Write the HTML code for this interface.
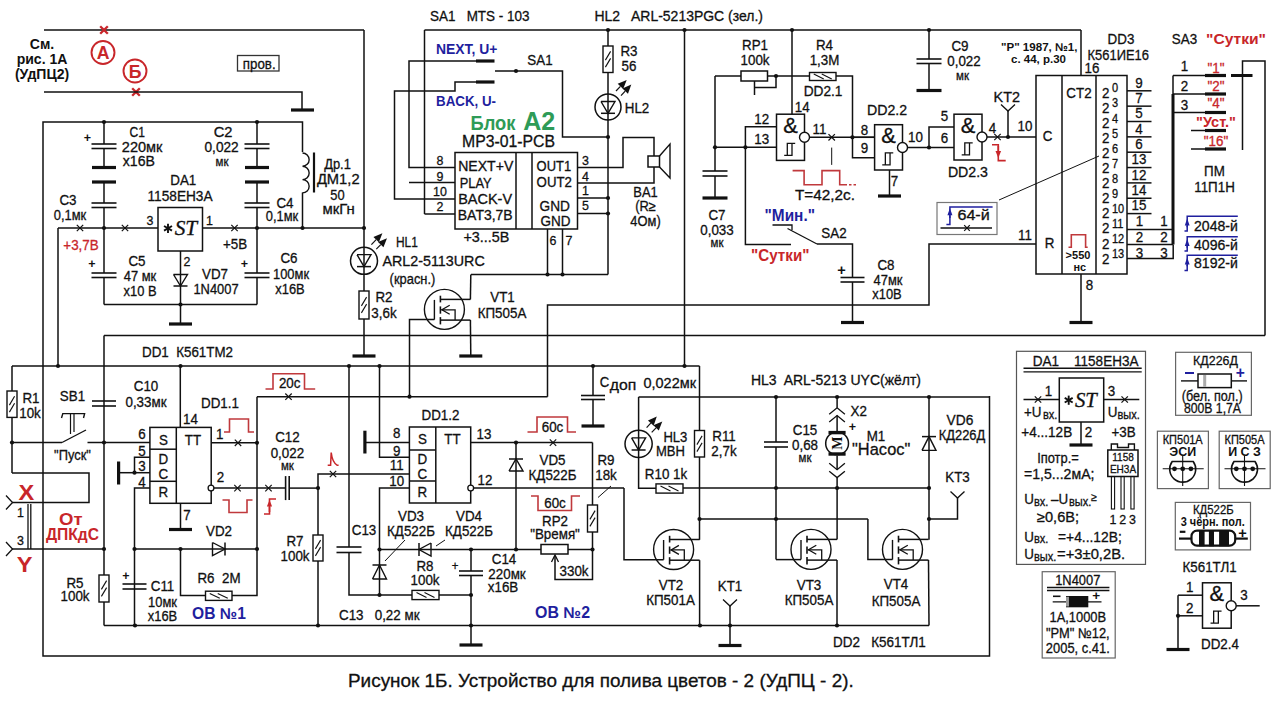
<!DOCTYPE html>
<html><head><meta charset="utf-8"><title>УдПЦ-2</title>
<style>html,body{margin:0;padding:0;background:#fff;overflow:hidden;}svg{display:block;}
text{font-family:"Liberation Sans",sans-serif;}</style></head>
<body><svg width="1280" height="702" viewBox="0 0 1280 702"><path d="M44 30 L364 30" stroke="#111" stroke-width="1.5" fill="none" stroke-linecap="butt" stroke-linejoin="miter"/><path d="M364 30 L364 291" stroke="#111" stroke-width="1.5" fill="none" stroke-linecap="butt" stroke-linejoin="miter"/><path d="M100.2 26.2 L107.8 33.8" stroke="#c8262a" stroke-width="2.3" fill="none" stroke-linecap="butt" stroke-linejoin="miter"/><path d="M100.2 33.8 L107.8 26.2" stroke="#c8262a" stroke-width="2.3" fill="none" stroke-linecap="butt" stroke-linejoin="miter"/><path d="M132.2 88.2 L139.8 95.8" stroke="#c8262a" stroke-width="2.3" fill="none" stroke-linecap="butt" stroke-linejoin="miter"/><path d="M132.2 95.8 L139.8 88.2" stroke="#c8262a" stroke-width="2.3" fill="none" stroke-linecap="butt" stroke-linejoin="miter"/><circle cx="103" cy="52.5" r="11.5" fill="none" stroke="#c8262a" stroke-width="1.9"/><text transform="translate(103 59.1) scale(1 1)" text-anchor="middle" fill="#c8262a" stroke="#c8262a" stroke-width="0" style="font-family:&quot;Liberation Sans&quot;,sans-serif;font-size:17.68px;white-space:pre;font-weight:bold;">А</text><circle cx="135" cy="71" r="11.5" fill="none" stroke="#c8262a" stroke-width="1.9"/><text transform="translate(135 77.6) scale(1 1)" text-anchor="middle" fill="#c8262a" stroke="#c8262a" stroke-width="0" style="font-family:&quot;Liberation Sans&quot;,sans-serif;font-size:17.68px;white-space:pre;font-weight:bold;">Б</text><path d="M44 92 L302 92 L302 110" stroke="#111" stroke-width="1.5" fill="none" stroke-linecap="butt" stroke-linejoin="miter"/><path d="M291 110 L314 110" stroke="#111" stroke-width="3.2" fill="none" stroke-linecap="butt" stroke-linejoin="miter"/><text transform="translate(42 49.34) scale(1 1)" text-anchor="middle" fill="#111" stroke="#111" stroke-width="0" style="font-family:&quot;Liberation Sans&quot;,sans-serif;font-size:14.04px;white-space:pre;font-weight:bold;">См.</text><text transform="translate(42 63.84) scale(1 1)" text-anchor="middle" fill="#111" stroke="#111" stroke-width="0" style="font-family:&quot;Liberation Sans&quot;,sans-serif;font-size:14.04px;white-space:pre;font-weight:bold;">рис. 1А</text><text transform="translate(42 78.84) scale(1 1)" text-anchor="middle" fill="#111" stroke="#111" stroke-width="0" style="font-family:&quot;Liberation Sans&quot;,sans-serif;font-size:14.04px;white-space:pre;font-weight:bold;">(УдПЦ2)</text><rect x="237.5" y="55.5" width="41.5" height="15.5" fill="none" stroke="#333" stroke-width="1.3"/><text x="242.8" y="68.52" text-anchor="start" fill="#111" stroke="#111" stroke-width="0.3" style="font-family:&quot;Liberation Sans&quot;,sans-serif;font-size:14.56px;white-space:pre;" textLength="32.8" lengthAdjust="spacingAndGlyphs">пров.</text><path d="M302.5 152 L302.5 122 L43 122 L43 656 L989.5 656 L989.5 396" stroke="#111" stroke-width="1.5" fill="none" stroke-linecap="butt" stroke-linejoin="miter"/><path d="M302.5 153 a6.6 6.6 0 0 1 0 13.3 a6.6 6.6 0 0 1 0 13.3 a6.6 6.6 0 0 1 0 13.3" stroke="#111" stroke-width="1.4" fill="none"/><path d="M314 152.5 L314 192.5" stroke="#111" stroke-width="2.2" fill="none" stroke-linecap="butt" stroke-linejoin="miter"/><path d="M302.5 192.5 L302.5 229" stroke="#111" stroke-width="1.5" fill="none" stroke-linecap="butt" stroke-linejoin="miter"/><text transform="translate(337.5 168.84) scale(0.92 1)" text-anchor="middle" fill="#111" stroke="#111" stroke-width="0.3" style="font-family:&quot;Liberation Sans&quot;,sans-serif;font-size:14.04px;white-space:pre;">Др.1</text><text x="316.9" y="184.02" text-anchor="start" fill="#111" stroke="#111" stroke-width="0.3" style="font-family:&quot;Liberation Sans&quot;,sans-serif;font-size:14.56px;white-space:pre;" textLength="42.7" lengthAdjust="spacingAndGlyphs">ДМ1,2</text><text transform="translate(337.5 199.84) scale(0.92 1)" text-anchor="middle" fill="#111" stroke="#111" stroke-width="0.3" style="font-family:&quot;Liberation Sans&quot;,sans-serif;font-size:14.04px;white-space:pre;">50</text><text x="322.6" y="214.34" text-anchor="start" fill="#111" stroke="#111" stroke-width="0.3" style="font-family:&quot;Liberation Sans&quot;,sans-serif;font-size:14.04px;white-space:pre;" textLength="32.2" lengthAdjust="spacingAndGlyphs">мкГн</text><circle cx="104" cy="122" r="2.1" fill="#111"/><path d="M104 122 L104 144" stroke="#111" stroke-width="1.5" fill="none" stroke-linecap="butt" stroke-linejoin="miter"/><path d="M91.5 144 L116.5 144" stroke="#111" stroke-width="1.6" fill="none" stroke-linecap="butt" stroke-linejoin="miter"/><path d="M91.5 148.5 L116.5 148.5" stroke="#111" stroke-width="1.6" fill="none" stroke-linecap="butt" stroke-linejoin="miter"/><path d="M104 148.5 L104 167.5" stroke="#111" stroke-width="1.5" fill="none" stroke-linecap="butt" stroke-linejoin="miter"/><path d="M92 167.5 L116 167.5" stroke="#111" stroke-width="3.2" fill="none" stroke-linecap="butt" stroke-linejoin="miter"/><path d="M92 182 L116 182" stroke="#111" stroke-width="3.2" fill="none" stroke-linecap="butt" stroke-linejoin="miter"/><path d="M104 182 L104 203" stroke="#111" stroke-width="1.5" fill="none" stroke-linecap="butt" stroke-linejoin="miter"/><path d="M91.5 203 L116.5 203" stroke="#111" stroke-width="1.6" fill="none" stroke-linecap="butt" stroke-linejoin="miter"/><path d="M91.5 207.5 L116.5 207.5" stroke="#111" stroke-width="1.6" fill="none" stroke-linecap="butt" stroke-linejoin="miter"/><path d="M104 207.5 L104 228" stroke="#111" stroke-width="1.5" fill="none" stroke-linecap="butt" stroke-linejoin="miter"/><circle cx="257" cy="122" r="2.1" fill="#111"/><path d="M257 122 L257 144" stroke="#111" stroke-width="1.5" fill="none" stroke-linecap="butt" stroke-linejoin="miter"/><path d="M244.5 144 L269.5 144" stroke="#111" stroke-width="1.6" fill="none" stroke-linecap="butt" stroke-linejoin="miter"/><path d="M244.5 148.5 L269.5 148.5" stroke="#111" stroke-width="1.6" fill="none" stroke-linecap="butt" stroke-linejoin="miter"/><path d="M257 148.5 L257 167.5" stroke="#111" stroke-width="1.5" fill="none" stroke-linecap="butt" stroke-linejoin="miter"/><path d="M245 167.5 L269 167.5" stroke="#111" stroke-width="3.2" fill="none" stroke-linecap="butt" stroke-linejoin="miter"/><path d="M245 182 L269 182" stroke="#111" stroke-width="3.2" fill="none" stroke-linecap="butt" stroke-linejoin="miter"/><path d="M257 182 L257 203" stroke="#111" stroke-width="1.5" fill="none" stroke-linecap="butt" stroke-linejoin="miter"/><path d="M244.5 203 L269.5 203" stroke="#111" stroke-width="1.6" fill="none" stroke-linecap="butt" stroke-linejoin="miter"/><path d="M244.5 207.5 L269.5 207.5" stroke="#111" stroke-width="1.6" fill="none" stroke-linecap="butt" stroke-linejoin="miter"/><path d="M257 207.5 L257 228" stroke="#111" stroke-width="1.5" fill="none" stroke-linecap="butt" stroke-linejoin="miter"/><text transform="translate(87.5 142.31) scale(1 1)" text-anchor="middle" fill="#111" stroke="#111" stroke-width="0" style="font-family:&quot;Liberation Sans&quot;,sans-serif;font-size:12.48px;white-space:pre;font-weight:bold;">+</text><text x="129.6" y="137.02" text-anchor="start" fill="#111" stroke="#111" stroke-width="0.3" style="font-family:&quot;Liberation Sans&quot;,sans-serif;font-size:14.56px;white-space:pre;" textLength="15.4" lengthAdjust="spacingAndGlyphs">C1</text><text x="121.8" y="152.02" text-anchor="start" fill="#111" stroke="#111" stroke-width="0.3" style="font-family:&quot;Liberation Sans&quot;,sans-serif;font-size:14.56px;white-space:pre;" textLength="40.6" lengthAdjust="spacingAndGlyphs">220мк</text><text x="122.8" y="165.84" text-anchor="start" fill="#111" stroke="#111" stroke-width="0.3" style="font-family:&quot;Liberation Sans&quot;,sans-serif;font-size:14.04px;white-space:pre;" textLength="32.1" lengthAdjust="spacingAndGlyphs">x16B</text><text x="213.7" y="137.02" text-anchor="start" fill="#111" stroke="#111" stroke-width="0.3" style="font-family:&quot;Liberation Sans&quot;,sans-serif;font-size:14.56px;white-space:pre;" textLength="18.8" lengthAdjust="spacingAndGlyphs">C2</text><text x="204.5" y="152.02" text-anchor="start" fill="#111" stroke="#111" stroke-width="0.3" style="font-family:&quot;Liberation Sans&quot;,sans-serif;font-size:14.56px;white-space:pre;" textLength="34.2" lengthAdjust="spacingAndGlyphs">0,022</text><text transform="translate(222 166.31) scale(0.92 1)" text-anchor="middle" fill="#111" stroke="#111" stroke-width="0.3" style="font-family:&quot;Liberation Sans&quot;,sans-serif;font-size:12.48px;white-space:pre;">мк</text><text transform="translate(68 205.02) scale(0.92 1)" text-anchor="middle" fill="#111" stroke="#111" stroke-width="0.3" style="font-family:&quot;Liberation Sans&quot;,sans-serif;font-size:14.56px;white-space:pre;">C3</text><text transform="translate(70 219.84) scale(0.92 1)" text-anchor="middle" fill="#111" stroke="#111" stroke-width="0.3" style="font-family:&quot;Liberation Sans&quot;,sans-serif;font-size:14.04px;white-space:pre;">0,1мк</text><text transform="translate(285 207.52) scale(0.92 1)" text-anchor="middle" fill="#111" stroke="#111" stroke-width="0.3" style="font-family:&quot;Liberation Sans&quot;,sans-serif;font-size:14.56px;white-space:pre;">C4</text><text transform="translate(282 220.84) scale(0.92 1)" text-anchor="middle" fill="#111" stroke="#111" stroke-width="0.3" style="font-family:&quot;Liberation Sans&quot;,sans-serif;font-size:14.04px;white-space:pre;">0,1мк</text><path d="M58 228 L158 228" stroke="#111" stroke-width="1.5" fill="none" stroke-linecap="butt" stroke-linejoin="miter"/><path d="M202.5 228 L364 228" stroke="#111" stroke-width="1.5" fill="none" stroke-linecap="butt" stroke-linejoin="miter"/><circle cx="104" cy="228" r="2.1" fill="#111"/><circle cx="257" cy="228" r="2.1" fill="#111"/><circle cx="302.5" cy="228" r="2.1" fill="#111"/><circle cx="364" cy="228" r="2.1" fill="#111"/><path d="M76.8 224.8 L83.2 231.2" stroke="#111" stroke-width="1.2" fill="none" stroke-linecap="butt" stroke-linejoin="miter"/><path d="M76.8 231.2 L83.2 224.8" stroke="#111" stroke-width="1.2" fill="none" stroke-linecap="butt" stroke-linejoin="miter"/><path d="M121.8 224.8 L128.2 231.2" stroke="#111" stroke-width="1.2" fill="none" stroke-linecap="butt" stroke-linejoin="miter"/><path d="M121.8 231.2 L128.2 224.8" stroke="#111" stroke-width="1.2" fill="none" stroke-linecap="butt" stroke-linejoin="miter"/><path d="M231.3 224.8 L237.7 231.2" stroke="#111" stroke-width="1.2" fill="none" stroke-linecap="butt" stroke-linejoin="miter"/><path d="M231.3 231.2 L237.7 224.8" stroke="#111" stroke-width="1.2" fill="none" stroke-linecap="butt" stroke-linejoin="miter"/><rect x="158" y="207.5" width="44.5" height="43.5" fill="none" stroke="#111" stroke-width="1.5"/><path d="M168 223.7 L168 232.9" stroke="#111" stroke-width="1.9" fill="none" stroke-linecap="butt" stroke-linejoin="miter"/><path d="M171.98 226 L164.02 230.6" stroke="#111" stroke-width="1.9" fill="none" stroke-linecap="butt" stroke-linejoin="miter"/><path d="M171.98 230.6 L164.02 226" stroke="#111" stroke-width="1.9" fill="none" stroke-linecap="butt" stroke-linejoin="miter"/><text x="174.7" y="235.3" text-anchor="start" fill="#111" stroke="#111" stroke-width="0.3" style="font-family:&quot;Liberation Serif&quot;,sans-serif;font-size:20.28px;white-space:pre;font-style:italic;" textLength="22.5" lengthAdjust="spacingAndGlyphs">ST</text><text transform="translate(150 224.66) scale(0.92 1)" text-anchor="middle" fill="#111" stroke="#111" stroke-width="0.3" style="font-family:&quot;Liberation Sans&quot;,sans-serif;font-size:13.52px;white-space:pre;">3</text><text transform="translate(209.5 224.66) scale(0.92 1)" text-anchor="middle" fill="#111" stroke="#111" stroke-width="0.3" style="font-family:&quot;Liberation Sans&quot;,sans-serif;font-size:13.52px;white-space:pre;">1</text><text transform="translate(183.3 185.02) scale(0.92 1)" text-anchor="middle" fill="#111" stroke="#111" stroke-width="0.3" style="font-family:&quot;Liberation Sans&quot;,sans-serif;font-size:14.56px;white-space:pre;">DA1</text><text x="147.5" y="201.02" text-anchor="start" fill="#111" stroke="#111" stroke-width="0.3" style="font-family:&quot;Liberation Sans&quot;,sans-serif;font-size:14.56px;white-space:pre;" textLength="65.1" lengthAdjust="spacingAndGlyphs">1158ЕН3А</text><text transform="translate(81 250.02) scale(0.92 1)" text-anchor="middle" fill="#c8262a" stroke="#c8262a" stroke-width="0.3" style="font-family:&quot;Liberation Sans&quot;,sans-serif;font-size:14.56px;white-space:pre;">+3,7B</text><text transform="translate(235 249.02) scale(0.92 1)" text-anchor="middle" fill="#111" stroke="#111" stroke-width="0.3" style="font-family:&quot;Liberation Sans&quot;,sans-serif;font-size:14.56px;white-space:pre;">+5B</text><path d="M58 228 L58 366" stroke="#111" stroke-width="1.5" fill="none" stroke-linecap="butt" stroke-linejoin="miter"/><path d="M180.5 251 L180.5 324" stroke="#111" stroke-width="1.5" fill="none" stroke-linecap="butt" stroke-linejoin="miter"/><path d="M173.5 274.5 L187.5 274.5 L180.5 286 L173.5 274.5" stroke="#111" stroke-width="1.4" fill="none" stroke-linecap="butt" stroke-linejoin="miter"/><path d="M173.5 286 L187.5 286" stroke="#111" stroke-width="1.5" fill="none" stroke-linecap="butt" stroke-linejoin="miter"/><circle cx="180.5" cy="304.5" r="2.1" fill="#111"/><path d="M169 324 L192 324" stroke="#111" stroke-width="3.2" fill="none" stroke-linecap="butt" stroke-linejoin="miter"/><text transform="translate(187 266.16) scale(0.92 1)" text-anchor="middle" fill="#111" stroke="#111" stroke-width="0.3" style="font-family:&quot;Liberation Sans&quot;,sans-serif;font-size:13.52px;white-space:pre;">2</text><path d="M104 228 L104 273" stroke="#111" stroke-width="1.5" fill="none" stroke-linecap="butt" stroke-linejoin="miter"/><path d="M91.5 273 L116.5 273" stroke="#111" stroke-width="1.6" fill="none" stroke-linecap="butt" stroke-linejoin="miter"/><path d="M91.5 277.5 L116.5 277.5" stroke="#111" stroke-width="1.6" fill="none" stroke-linecap="butt" stroke-linejoin="miter"/><path d="M104 277.5 L104 304.5" stroke="#111" stroke-width="1.5" fill="none" stroke-linecap="butt" stroke-linejoin="miter"/><path d="M257 228 L257 273" stroke="#111" stroke-width="1.5" fill="none" stroke-linecap="butt" stroke-linejoin="miter"/><path d="M244.5 273 L269.5 273" stroke="#111" stroke-width="1.6" fill="none" stroke-linecap="butt" stroke-linejoin="miter"/><path d="M244.5 277.5 L269.5 277.5" stroke="#111" stroke-width="1.6" fill="none" stroke-linecap="butt" stroke-linejoin="miter"/><path d="M257 277.5 L257 304.5" stroke="#111" stroke-width="1.5" fill="none" stroke-linecap="butt" stroke-linejoin="miter"/><path d="M104 304.5 L257 304.5" stroke="#111" stroke-width="1.5" fill="none" stroke-linecap="butt" stroke-linejoin="miter"/><text transform="translate(92 268.31) scale(1 1)" text-anchor="middle" fill="#111" stroke="#111" stroke-width="0" style="font-family:&quot;Liberation Sans&quot;,sans-serif;font-size:12.48px;white-space:pre;font-weight:bold;">+</text><text transform="translate(244.5 268.31) scale(1 1)" text-anchor="middle" fill="#111" stroke="#111" stroke-width="0" style="font-family:&quot;Liberation Sans&quot;,sans-serif;font-size:12.48px;white-space:pre;font-weight:bold;">+</text><text transform="translate(137 266.02) scale(0.92 1)" text-anchor="middle" fill="#111" stroke="#111" stroke-width="0.3" style="font-family:&quot;Liberation Sans&quot;,sans-serif;font-size:14.56px;white-space:pre;">C5</text><text transform="translate(140 280.84) scale(0.92 1)" text-anchor="middle" fill="#111" stroke="#111" stroke-width="0.3" style="font-family:&quot;Liberation Sans&quot;,sans-serif;font-size:14.04px;white-space:pre;">47 мк</text><text transform="translate(140 295.84) scale(0.92 1)" text-anchor="middle" fill="#111" stroke="#111" stroke-width="0.3" style="font-family:&quot;Liberation Sans&quot;,sans-serif;font-size:14.04px;white-space:pre;">x10 B</text><text transform="translate(215 279.02) scale(0.92 1)" text-anchor="middle" fill="#111" stroke="#111" stroke-width="0.3" style="font-family:&quot;Liberation Sans&quot;,sans-serif;font-size:14.56px;white-space:pre;">VD7</text><text transform="translate(216 293.84) scale(0.92 1)" text-anchor="middle" fill="#111" stroke="#111" stroke-width="0.3" style="font-family:&quot;Liberation Sans&quot;,sans-serif;font-size:14.04px;white-space:pre;">1N4007</text><text transform="translate(289 262.52) scale(0.92 1)" text-anchor="middle" fill="#111" stroke="#111" stroke-width="0.3" style="font-family:&quot;Liberation Sans&quot;,sans-serif;font-size:14.56px;white-space:pre;">C6</text><text transform="translate(291 278.84) scale(0.92 1)" text-anchor="middle" fill="#111" stroke="#111" stroke-width="0.3" style="font-family:&quot;Liberation Sans&quot;,sans-serif;font-size:14.04px;white-space:pre;">100мк</text><text transform="translate(290 293.84) scale(0.92 1)" text-anchor="middle" fill="#111" stroke="#111" stroke-width="0.3" style="font-family:&quot;Liberation Sans&quot;,sans-serif;font-size:14.04px;white-space:pre;">x16B</text><circle cx="364" cy="260.8" r="13.5" fill="none" stroke="#111" stroke-width="1.5"/><path d="M357 254.6 L371 254.6 L364 266.6 L357 254.6" stroke="#111" stroke-width="1.4" fill="none" stroke-linecap="butt" stroke-linejoin="miter"/><path d="M357 266.6 L371 266.6" stroke="#111" stroke-width="1.5" fill="none" stroke-linecap="butt" stroke-linejoin="miter"/><path d="M371.4 244.6 L376.15 239.68" stroke="#111" stroke-width="1.2" fill="none" stroke-linecap="butt" stroke-linejoin="miter"/><path d="M382.4 233.2 L378.89 242.32 L373.42 237.04 Z" fill="#111"/><path d="M376.3 249.2 L380.72 244.65" stroke="#111" stroke-width="1.2" fill="none" stroke-linecap="butt" stroke-linejoin="miter"/><path d="M387 238.2 L383.45 247.3 L378 242 Z" fill="#111"/><text x="396" y="246.82" text-anchor="start" fill="#111" stroke="#111" stroke-width="0.3" style="font-family:&quot;Liberation Sans&quot;,sans-serif;font-size:14.56px;white-space:pre;" textLength="21.9" lengthAdjust="spacingAndGlyphs">HL1</text><text x="382.4" y="265.82" text-anchor="start" fill="#111" stroke="#111" stroke-width="0.3" style="font-family:&quot;Liberation Sans&quot;,sans-serif;font-size:14.56px;white-space:pre;" textLength="102.4" lengthAdjust="spacingAndGlyphs">ARL2-5113URC</text><text transform="translate(412.5 283.84) scale(0.92 1)" text-anchor="middle" fill="#111" stroke="#111" stroke-width="0.3" style="font-family:&quot;Liberation Sans&quot;,sans-serif;font-size:14.04px;white-space:pre;">(красн.)</text><rect x="359" y="291" width="10" height="28" fill="#fff" stroke="#111" stroke-width="1.4"/><path d="M361.4 305.9 L366.6 297.1" stroke="#111" stroke-width="1.1" fill="none" stroke-linecap="butt" stroke-linejoin="miter"/><path d="M361.4 312.9 L366.6 304.1" stroke="#111" stroke-width="1.1" fill="none" stroke-linecap="butt" stroke-linejoin="miter"/><path d="M364 319 L364 356" stroke="#111" stroke-width="1.5" fill="none" stroke-linecap="butt" stroke-linejoin="miter"/><path d="M352.5 356 L375.5 356" stroke="#111" stroke-width="3.2" fill="none" stroke-linecap="butt" stroke-linejoin="miter"/><text transform="translate(384 302.02) scale(0.92 1)" text-anchor="middle" fill="#111" stroke="#111" stroke-width="0.3" style="font-family:&quot;Liberation Sans&quot;,sans-serif;font-size:14.56px;white-space:pre;">R2</text><text transform="translate(384 317.52) scale(0.92 1)" text-anchor="middle" fill="#111" stroke="#111" stroke-width="0.3" style="font-family:&quot;Liberation Sans&quot;,sans-serif;font-size:14.56px;white-space:pre;">3,6k</text><text x="430" y="21.02" text-anchor="start" fill="#111" stroke="#111" stroke-width="0.3" style="font-family:&quot;Liberation Sans&quot;,sans-serif;font-size:14.56px;white-space:pre;" textLength="99.5" lengthAdjust="spacingAndGlyphs">SA1   MTS - 103</text><path d="M424.5 30 L1081 30" stroke="#111" stroke-width="1.5" fill="none" stroke-linecap="butt" stroke-linejoin="miter"/><circle cx="608" cy="30" r="2.1" fill="#111"/><circle cx="684.5" cy="30" r="2.1" fill="#111"/><circle cx="792" cy="30" r="2.1" fill="#111"/><circle cx="929" cy="30" r="2.1" fill="#111"/><path d="M424.5 30 L424.5 214" stroke="#111" stroke-width="1.5" fill="none" stroke-linecap="butt" stroke-linejoin="miter"/><path d="M424.5 214 L455 214" stroke="#111" stroke-width="1.5" fill="none" stroke-linecap="butt" stroke-linejoin="miter"/><text x="436" y="54.02" text-anchor="start" fill="#1f1f9e" stroke="#1f1f9e" stroke-width="0" style="font-family:&quot;Liberation Sans&quot;,sans-serif;font-size:14.56px;white-space:pre;font-weight:bold;" textLength="61.5" lengthAdjust="spacingAndGlyphs">NEXT, U+</text><text x="436" y="105.52" text-anchor="start" fill="#1f1f9e" stroke="#1f1f9e" stroke-width="0" style="font-family:&quot;Liberation Sans&quot;,sans-serif;font-size:14.56px;white-space:pre;font-weight:bold;" textLength="60" lengthAdjust="spacingAndGlyphs">BACK, U-</text><path d="M476 61 L494.5 61" stroke="#111" stroke-width="3.2" fill="none" stroke-linecap="butt" stroke-linejoin="miter"/><path d="M476 82 L494.5 82" stroke="#111" stroke-width="3.2" fill="none" stroke-linecap="butt" stroke-linejoin="miter"/><path d="M476 61 L409 61 L409 167.5 L455 167.5" stroke="#111" stroke-width="1.5" fill="none" stroke-linecap="butt" stroke-linejoin="miter"/><path d="M476 82 L455 82 L455 91 L394.5 91 L394.5 199 L455 199" stroke="#111" stroke-width="1.5" fill="none" stroke-linecap="butt" stroke-linejoin="miter"/><path d="M409 182.5 L455 182.5" stroke="#111" stroke-width="1.5" fill="none" stroke-linecap="butt" stroke-linejoin="miter"/><path d="M495 71 L562.5 71 L562.5 137 L608 137" stroke="#111" stroke-width="1.5" fill="none" stroke-linecap="butt" stroke-linejoin="miter"/><circle cx="516" cy="71" r="2.1" fill="#111"/><circle cx="608" cy="137" r="2.1" fill="#111"/><text transform="translate(540 65.02) scale(0.92 1)" text-anchor="middle" fill="#111" stroke="#111" stroke-width="0.3" style="font-family:&quot;Liberation Sans&quot;,sans-serif;font-size:14.56px;white-space:pre;">SA1</text><text x="470.5" y="129.7" text-anchor="start" fill="#2e9b57" stroke="#2e9b57" stroke-width="0" style="font-family:&quot;Liberation Sans&quot;,sans-serif;font-size:19.76px;white-space:pre;font-weight:bold;" textLength="45" lengthAdjust="spacingAndGlyphs">Блок</text><text x="523.3" y="129.7" text-anchor="start" fill="#2e9b57" stroke="#2e9b57" stroke-width="0" style="font-family:&quot;Liberation Sans&quot;,sans-serif;font-size:26.52px;white-space:pre;font-weight:bold;" textLength="32" lengthAdjust="spacingAndGlyphs">A2</text><text x="462" y="147" text-anchor="start" fill="#111" stroke="#111" stroke-width="0.3" style="font-family:&quot;Liberation Sans&quot;,sans-serif;font-size:16.64px;white-space:pre;" textLength="93" lengthAdjust="spacingAndGlyphs">MP3-01-PCB</text><rect x="455" y="152.5" width="122.5" height="76.5" fill="none" stroke="#111" stroke-width="1.5"/><path d="M516 152.5 L516 229" stroke="#111" stroke-width="1.5" fill="none" stroke-linecap="butt" stroke-linejoin="miter"/><path d="M532 152.5 L532 229" stroke="#111" stroke-width="1.5" fill="none" stroke-linecap="butt" stroke-linejoin="miter"/><text x="458.2" y="170.84" text-anchor="start" fill="#111" stroke="#111" stroke-width="0.3" style="font-family:&quot;Liberation Sans&quot;,sans-serif;font-size:14.04px;white-space:pre;" textLength="55.1" lengthAdjust="spacingAndGlyphs">NEXT+V</text><text x="459.8" y="187.74" text-anchor="start" fill="#111" stroke="#111" stroke-width="0.3" style="font-family:&quot;Liberation Sans&quot;,sans-serif;font-size:14.04px;white-space:pre;" textLength="31.9" lengthAdjust="spacingAndGlyphs">PLAY</text><text x="458.2" y="203.74" text-anchor="start" fill="#111" stroke="#111" stroke-width="0.3" style="font-family:&quot;Liberation Sans&quot;,sans-serif;font-size:14.04px;white-space:pre;" textLength="53.9" lengthAdjust="spacingAndGlyphs">BACK-V</text><text x="457.8" y="219.64" text-anchor="start" fill="#111" stroke="#111" stroke-width="0.3" style="font-family:&quot;Liberation Sans&quot;,sans-serif;font-size:14.04px;white-space:pre;" textLength="54.9" lengthAdjust="spacingAndGlyphs">BAT3,7B</text><text x="536.6" y="170.84" text-anchor="start" fill="#111" stroke="#111" stroke-width="0.3" style="font-family:&quot;Liberation Sans&quot;,sans-serif;font-size:14.04px;white-space:pre;" textLength="34.5" lengthAdjust="spacingAndGlyphs">OUT1</text><text x="536.6" y="186.74" text-anchor="start" fill="#111" stroke="#111" stroke-width="0.3" style="font-family:&quot;Liberation Sans&quot;,sans-serif;font-size:14.04px;white-space:pre;" textLength="35.3" lengthAdjust="spacingAndGlyphs">OUT2</text><text x="539.6" y="210.74" text-anchor="start" fill="#111" stroke="#111" stroke-width="0.3" style="font-family:&quot;Liberation Sans&quot;,sans-serif;font-size:14.04px;white-space:pre;" textLength="30.4" lengthAdjust="spacingAndGlyphs">GND</text><text x="540.6" y="225.64" text-anchor="start" fill="#111" stroke="#111" stroke-width="0.3" style="font-family:&quot;Liberation Sans&quot;,sans-serif;font-size:14.04px;white-space:pre;" textLength="30" lengthAdjust="spacingAndGlyphs">GND</text><text transform="translate(440 164.66) scale(0.92 1)" text-anchor="middle" fill="#111" stroke="#111" stroke-width="0.3" style="font-family:&quot;Liberation Sans&quot;,sans-serif;font-size:13.52px;white-space:pre;">8</text><text transform="translate(440 180.66) scale(0.92 1)" text-anchor="middle" fill="#111" stroke="#111" stroke-width="0.3" style="font-family:&quot;Liberation Sans&quot;,sans-serif;font-size:13.52px;white-space:pre;">9</text><text transform="translate(440 195.66) scale(0.92 1)" text-anchor="middle" fill="#111" stroke="#111" stroke-width="0.3" style="font-family:&quot;Liberation Sans&quot;,sans-serif;font-size:13.52px;white-space:pre;">10</text><text transform="translate(440 210.66) scale(0.92 1)" text-anchor="middle" fill="#111" stroke="#111" stroke-width="0.3" style="font-family:&quot;Liberation Sans&quot;,sans-serif;font-size:13.52px;white-space:pre;">2</text><text transform="translate(585.5 164.66) scale(0.92 1)" text-anchor="middle" fill="#111" stroke="#111" stroke-width="0.3" style="font-family:&quot;Liberation Sans&quot;,sans-serif;font-size:13.52px;white-space:pre;">3</text><text transform="translate(585.5 180.66) scale(0.92 1)" text-anchor="middle" fill="#111" stroke="#111" stroke-width="0.3" style="font-family:&quot;Liberation Sans&quot;,sans-serif;font-size:13.52px;white-space:pre;">4</text><text transform="translate(585.5 194.66) scale(0.92 1)" text-anchor="middle" fill="#111" stroke="#111" stroke-width="0.3" style="font-family:&quot;Liberation Sans&quot;,sans-serif;font-size:13.52px;white-space:pre;">1</text><text transform="translate(585.5 209.66) scale(0.92 1)" text-anchor="middle" fill="#111" stroke="#111" stroke-width="0.3" style="font-family:&quot;Liberation Sans&quot;,sans-serif;font-size:13.52px;white-space:pre;">5</text><path d="M577.5 167.5 L623 167.5 L623 137.5 L654 137.5 L654 156" stroke="#111" stroke-width="1.5" fill="none" stroke-linecap="butt" stroke-linejoin="miter"/><path d="M577.5 183 L654 183 L654 167" stroke="#111" stroke-width="1.5" fill="none" stroke-linecap="butt" stroke-linejoin="miter"/><path d="M577.5 198 L608 198" stroke="#111" stroke-width="1.5" fill="none" stroke-linecap="butt" stroke-linejoin="miter"/><path d="M577.5 213.5 L608 213.5" stroke="#111" stroke-width="1.5" fill="none" stroke-linecap="butt" stroke-linejoin="miter"/><circle cx="608" cy="198" r="2.1" fill="#111"/><circle cx="608" cy="213.5" r="2.1" fill="#111"/><path d="M608 30 L608 274.5" stroke="#111" stroke-width="1.5" fill="none" stroke-linecap="butt" stroke-linejoin="miter"/><rect x="603" y="46" width="10" height="26.5" fill="#fff" stroke="#111" stroke-width="1.4"/><path d="M605.4 60.15 L610.6 51.35" stroke="#111" stroke-width="1.1" fill="none" stroke-linecap="butt" stroke-linejoin="miter"/><path d="M605.4 67.15 L610.6 58.35" stroke="#111" stroke-width="1.1" fill="none" stroke-linecap="butt" stroke-linejoin="miter"/><circle cx="608" cy="107" r="13" fill="#fff" stroke="#111" stroke-width="1.5"/><path d="M601 101.5 L615 101.5 L608 113.3 L601 101.5" stroke="#111" stroke-width="1.4" fill="none" stroke-linecap="butt" stroke-linejoin="miter"/><path d="M601 113.3 L615 113.3" stroke="#111" stroke-width="1.5" fill="none" stroke-linecap="butt" stroke-linejoin="miter"/><path d="M608 94 L608 120" stroke="#111" stroke-width="1.5" fill="none" stroke-linecap="butt" stroke-linejoin="miter"/><path d="M616 91 L620.42 86.45" stroke="#111" stroke-width="1.2" fill="none" stroke-linecap="butt" stroke-linejoin="miter"/><path d="M626.7 80 L623.15 89.1 L617.7 83.8 Z" fill="#111"/><path d="M621 95.7 L625.18 91.2" stroke="#111" stroke-width="1.2" fill="none" stroke-linecap="butt" stroke-linejoin="miter"/><path d="M631.3 84.6 L627.96 93.78 L622.39 88.61 Z" fill="#111"/><rect x="648" y="156" width="11.5" height="11" fill="none" stroke="#111" stroke-width="1.5"/><path d="M659.5 156 L670 144 L670 178 L659.5 167" stroke="#111" stroke-width="1.4" fill="none" stroke-linecap="butt" stroke-linejoin="miter"/><text transform="translate(645.5 197.34) scale(0.92 1)" text-anchor="middle" fill="#111" stroke="#111" stroke-width="0.3" style="font-family:&quot;Liberation Sans&quot;,sans-serif;font-size:14.04px;white-space:pre;">BA1</text><text transform="translate(645.5 210.84) scale(0.92 1)" text-anchor="middle" fill="#111" stroke="#111" stroke-width="0.3" style="font-family:&quot;Liberation Sans&quot;,sans-serif;font-size:14.04px;white-space:pre;">(R≥</text><text transform="translate(645.5 225.84) scale(0.92 1)" text-anchor="middle" fill="#111" stroke="#111" stroke-width="0.3" style="font-family:&quot;Liberation Sans&quot;,sans-serif;font-size:14.04px;white-space:pre;">4Ом)</text><text x="463.4" y="241.64" text-anchor="start" fill="#111" stroke="#111" stroke-width="0.3" style="font-family:&quot;Liberation Sans&quot;,sans-serif;font-size:14.04px;white-space:pre;" textLength="45.9" lengthAdjust="spacingAndGlyphs">+3...5B</text><path d="M547.5 229 L547.5 274.5" stroke="#111" stroke-width="1.5" fill="none" stroke-linecap="butt" stroke-linejoin="miter"/><path d="M562.5 229 L562.5 274.5" stroke="#111" stroke-width="1.5" fill="none" stroke-linecap="butt" stroke-linejoin="miter"/><circle cx="547.5" cy="274.5" r="2.1" fill="#111"/><circle cx="562.5" cy="274.5" r="2.1" fill="#111"/><text transform="translate(553 244.66) scale(0.92 1)" text-anchor="middle" fill="#111" stroke="#111" stroke-width="0.3" style="font-family:&quot;Liberation Sans&quot;,sans-serif;font-size:13.52px;white-space:pre;">6</text><text transform="translate(569 244.66) scale(0.92 1)" text-anchor="middle" fill="#111" stroke="#111" stroke-width="0.3" style="font-family:&quot;Liberation Sans&quot;,sans-serif;font-size:13.52px;white-space:pre;">7</text><path d="M471 274.5 L608 274.5" stroke="#111" stroke-width="1.5" fill="none" stroke-linecap="butt" stroke-linejoin="miter"/><circle cx="444.4" cy="309.4" r="20" fill="none" stroke="#111" stroke-width="1.4"/><path d="M434.4 299.9 L434.4 319.6" stroke="#111" stroke-width="1.4" fill="none" stroke-linecap="butt" stroke-linejoin="miter"/><path d="M440.4 295.7 L440.4 302.4" stroke="#111" stroke-width="1.6" fill="none" stroke-linecap="butt" stroke-linejoin="miter"/><path d="M440.4 306.4 L440.4 313.7" stroke="#111" stroke-width="1.6" fill="none" stroke-linecap="butt" stroke-linejoin="miter"/><path d="M440.4 317.1 L440.4 324.4" stroke="#111" stroke-width="1.6" fill="none" stroke-linecap="butt" stroke-linejoin="miter"/><path d="M440.4 299.4 L470.4 299.4" stroke="#111" stroke-width="1.5" fill="none" stroke-linecap="butt" stroke-linejoin="miter"/><path d="M440.4 320.1 L470.4 320.1" stroke="#111" stroke-width="1.5" fill="none" stroke-linecap="butt" stroke-linejoin="miter"/><path d="M441.4 309.8 L455.1 309.8 L455.1 320.1" stroke="#111" stroke-width="1.3" fill="none" stroke-linecap="butt" stroke-linejoin="miter"/><path d="M449.7 305.3 L441.9 309.8 L449.7 314.3" stroke="#111" stroke-width="1.3" fill="none" stroke-linecap="butt" stroke-linejoin="miter"/><path d="M470.4 299.4 L470.8 274.5" stroke="#111" stroke-width="1.5" fill="none" stroke-linecap="butt" stroke-linejoin="miter"/><path d="M470.4 320.1 L470.8 356" stroke="#111" stroke-width="1.5" fill="none" stroke-linecap="butt" stroke-linejoin="miter"/><path d="M459.3 356 L482.3 356" stroke="#111" stroke-width="3.2" fill="none" stroke-linecap="butt" stroke-linejoin="miter"/><path d="M434.4 319.6 L409.5 319.6 L409.5 396.7" stroke="#111" stroke-width="1.5" fill="none" stroke-linecap="butt" stroke-linejoin="miter"/><circle cx="409.5" cy="396.7" r="2.1" fill="#111"/><text transform="translate(502.5 302.02) scale(0.92 1)" text-anchor="middle" fill="#111" stroke="#111" stroke-width="0.3" style="font-family:&quot;Liberation Sans&quot;,sans-serif;font-size:14.56px;white-space:pre;">VT1</text><text transform="translate(502 317.52) scale(0.92 1)" text-anchor="middle" fill="#111" stroke="#111" stroke-width="0.3" style="font-family:&quot;Liberation Sans&quot;,sans-serif;font-size:14.56px;white-space:pre;">КП505А</text><path d="M257 396.7 L547.5 396.7" stroke="#111" stroke-width="1.5" fill="none" stroke-linecap="butt" stroke-linejoin="miter"/><path d="M547.5 396.7 L547.5 305 L929 305 L929 244 L1036 244" stroke="#111" stroke-width="1.5" fill="none" stroke-linecap="butt" stroke-linejoin="miter"/><text x="594.5" y="21.02" text-anchor="start" fill="#111" stroke="#111" stroke-width="0.3" style="font-family:&quot;Liberation Sans&quot;,sans-serif;font-size:14.56px;white-space:pre;" textLength="168.5" lengthAdjust="spacingAndGlyphs">HL2   ARL-5213PGC (зел.)</text><text transform="translate(629 56.02) scale(0.92 1)" text-anchor="middle" fill="#111" stroke="#111" stroke-width="0.3" style="font-family:&quot;Liberation Sans&quot;,sans-serif;font-size:14.56px;white-space:pre;">R3</text><text transform="translate(629 70.52) scale(0.92 1)" text-anchor="middle" fill="#111" stroke="#111" stroke-width="0.3" style="font-family:&quot;Liberation Sans&quot;,sans-serif;font-size:14.56px;white-space:pre;">56</text><text transform="translate(637 113.02) scale(0.92 1)" text-anchor="middle" fill="#111" stroke="#111" stroke-width="0.3" style="font-family:&quot;Liberation Sans&quot;,sans-serif;font-size:14.56px;white-space:pre;">HL2</text><rect x="741" y="71" width="26.5" height="10" fill="#fff" stroke="#111" stroke-width="1.5"/><path d="M715 76 L741 76" stroke="#111" stroke-width="1.5" fill="none" stroke-linecap="butt" stroke-linejoin="miter"/><path d="M767.5 76 L809.5 76" stroke="#111" stroke-width="1.5" fill="none" stroke-linecap="butt" stroke-linejoin="miter"/><circle cx="776" cy="76" r="2.1" fill="#111"/><rect x="809.5" y="72.5" width="26.5" height="8" fill="#fff" stroke="#111" stroke-width="1.4"/><path d="M813.75 74.1 L823.75 78.9" stroke="#111" stroke-width="1.1" fill="none" stroke-linecap="butt" stroke-linejoin="miter"/><path d="M821.75 74.1 L831.75 78.9" stroke="#111" stroke-width="1.1" fill="none" stroke-linecap="butt" stroke-linejoin="miter"/><path d="M836 76 L852.5 76 L852.5 157.8 L874.6 157.8" stroke="#111" stroke-width="1.5" fill="none" stroke-linecap="butt" stroke-linejoin="miter"/><path d="M754.5 81 L754.5 95" stroke="#111" stroke-width="1.5" fill="none" stroke-linecap="butt" stroke-linejoin="miter"/><path d="M754.5 87.5 L776 87.5 L776 76" stroke="#111" stroke-width="1.5" fill="none" stroke-linecap="butt" stroke-linejoin="miter"/><path d="M715 76 L715 171" stroke="#111" stroke-width="1.5" fill="none" stroke-linecap="butt" stroke-linejoin="miter"/><circle cx="715" cy="147.3" r="2.1" fill="#111"/><path d="M792 30 L792 114.2" stroke="#111" stroke-width="1.5" fill="none" stroke-linecap="butt" stroke-linejoin="miter"/><rect x="776.5" y="114.2" width="28" height="46.2" fill="none" stroke="#111" stroke-width="1.5"/><text transform="translate(790.5 132.83) scale(1 1)" text-anchor="middle" fill="#111" stroke="#111" stroke-width="0.3" style="font-family:&quot;Liberation Sans&quot;,sans-serif;font-size:21.84px;white-space:pre;">&amp;</text><path d="M784.2 155.3 L792 155.3 L792 143.3" stroke="#111" stroke-width="1.3" fill="none" stroke-linecap="butt" stroke-linejoin="miter"/><path d="M787.3 155.3 L787.3 143.3 L795.2 143.3" stroke="#111" stroke-width="1.3" fill="none" stroke-linecap="butt" stroke-linejoin="miter"/><circle cx="804.5" cy="137.3" r="5" fill="#fff" stroke="#111" stroke-width="1.4"/><path d="M776.5 126.8 L745.4 126.8 L745.4 244.5 L791 244.5" stroke="#111" stroke-width="1.5" fill="none" stroke-linecap="butt" stroke-linejoin="miter"/><path d="M715 147.3 L776.5 147.3" stroke="#111" stroke-width="1.5" fill="none" stroke-linecap="butt" stroke-linejoin="miter"/><circle cx="745.4" cy="147.3" r="2.1" fill="#111"/><path d="M809.8 137.3 L874.6 137.3" stroke="#111" stroke-width="1.5" fill="none" stroke-linecap="butt" stroke-linejoin="miter"/><circle cx="852.4" cy="137.3" r="2.1" fill="#111"/><path d="M828.5 134.1 L834.9 140.5" stroke="#111" stroke-width="1.2" fill="none" stroke-linecap="butt" stroke-linejoin="miter"/><path d="M828.5 140.5 L834.9 134.1" stroke="#111" stroke-width="1.2" fill="none" stroke-linecap="butt" stroke-linejoin="miter"/><path d="M831.7 147.6 L831.7 164.9" stroke="#111" stroke-width="1" fill="none" stroke-linecap="butt" stroke-linejoin="miter"/><path d="M702.5 171 L727.5 171" stroke="#111" stroke-width="1.6" fill="none" stroke-linecap="butt" stroke-linejoin="miter"/><path d="M702.5 176 L727.5 176" stroke="#111" stroke-width="1.6" fill="none" stroke-linecap="butt" stroke-linejoin="miter"/><path d="M715 176 L715 198" stroke="#111" stroke-width="1.5" fill="none" stroke-linecap="butt" stroke-linejoin="miter"/><path d="M702.5 198 L727.5 198" stroke="#111" stroke-width="3.2" fill="none" stroke-linecap="butt" stroke-linejoin="miter"/><text transform="translate(717 220.02) scale(0.92 1)" text-anchor="middle" fill="#111" stroke="#111" stroke-width="0.3" style="font-family:&quot;Liberation Sans&quot;,sans-serif;font-size:14.56px;white-space:pre;">C7</text><text transform="translate(717 234.52) scale(0.92 1)" text-anchor="middle" fill="#111" stroke="#111" stroke-width="0.3" style="font-family:&quot;Liberation Sans&quot;,sans-serif;font-size:14.56px;white-space:pre;">0,033</text><text transform="translate(717 246.81) scale(0.92 1)" text-anchor="middle" fill="#111" stroke="#111" stroke-width="0.3" style="font-family:&quot;Liberation Sans&quot;,sans-serif;font-size:12.48px;white-space:pre;">мк</text><text transform="translate(755 50.02) scale(0.92 1)" text-anchor="middle" fill="#111" stroke="#111" stroke-width="0.3" style="font-family:&quot;Liberation Sans&quot;,sans-serif;font-size:14.56px;white-space:pre;">RP1</text><text transform="translate(755 65.02) scale(0.92 1)" text-anchor="middle" fill="#111" stroke="#111" stroke-width="0.3" style="font-family:&quot;Liberation Sans&quot;,sans-serif;font-size:14.56px;white-space:pre;">100k</text><text transform="translate(824.5 50.02) scale(0.92 1)" text-anchor="middle" fill="#111" stroke="#111" stroke-width="0.3" style="font-family:&quot;Liberation Sans&quot;,sans-serif;font-size:14.56px;white-space:pre;">R4</text><text transform="translate(824.5 65.02) scale(0.92 1)" text-anchor="middle" fill="#111" stroke="#111" stroke-width="0.3" style="font-family:&quot;Liberation Sans&quot;,sans-serif;font-size:14.56px;white-space:pre;">1,3M</text><text x="803.7" y="96.02" text-anchor="start" fill="#111" stroke="#111" stroke-width="0.3" style="font-family:&quot;Liberation Sans&quot;,sans-serif;font-size:14.56px;white-space:pre;" textLength="38.8" lengthAdjust="spacingAndGlyphs">DD2.1</text><text transform="translate(761.8 123.72) scale(0.92 1)" text-anchor="middle" fill="#111" stroke="#111" stroke-width="0.3" style="font-family:&quot;Liberation Sans&quot;,sans-serif;font-size:14.56px;white-space:pre;">12</text><text transform="translate(761.8 144.22) scale(0.92 1)" text-anchor="middle" fill="#111" stroke="#111" stroke-width="0.3" style="font-family:&quot;Liberation Sans&quot;,sans-serif;font-size:14.56px;white-space:pre;">13</text><text transform="translate(802.2 111.52) scale(0.92 1)" text-anchor="middle" fill="#111" stroke="#111" stroke-width="0.3" style="font-family:&quot;Liberation Sans&quot;,sans-serif;font-size:14.56px;white-space:pre;">14</text><text transform="translate(819.5 134.02) scale(0.92 1)" text-anchor="middle" fill="#111" stroke="#111" stroke-width="0.3" style="font-family:&quot;Liberation Sans&quot;,sans-serif;font-size:14.56px;white-space:pre;">11</text><path d="M792.6 170.6 L804.1 170.6 L804.1 184.7 L822 184.7 L822 170.6 L839.7 170.6 L839.7 184.7 L847 184.7" stroke="#c0393c" stroke-width="1.6" fill="none" stroke-linecap="butt" stroke-linejoin="miter"/><path d="M849 184.7 L856 184.7" stroke="#c0393c" stroke-width="1.5" fill="none" stroke-linecap="butt" stroke-linejoin="miter" stroke-dasharray="2.5 2"/><text x="795" y="200.34" text-anchor="start" fill="#111" stroke="#111" stroke-width="0.3" style="font-family:&quot;Liberation Sans&quot;,sans-serif;font-size:14.04px;white-space:pre;" textLength="60" lengthAdjust="spacingAndGlyphs">T=42,2c.</text><path d="M772.5 225 L792 225 L792 230" stroke="#111" stroke-width="1.3" fill="none" stroke-linecap="butt" stroke-linejoin="miter"/><path d="M787.5 228.5 L817 244" stroke="#111" stroke-width="1.3" fill="none" stroke-linecap="butt" stroke-linejoin="miter"/><path d="M817 244 L852.5 244 L852.5 277.5" stroke="#111" stroke-width="1.5" fill="none" stroke-linecap="butt" stroke-linejoin="miter"/><text x="764.5" y="220.56" text-anchor="start" fill="#1f1f9e" stroke="#1f1f9e" stroke-width="0" style="font-family:&quot;Liberation Sans&quot;,sans-serif;font-size:16.12px;white-space:pre;font-weight:bold;" textLength="50.5" lengthAdjust="spacingAndGlyphs">"Мин."</text><text x="751" y="260.56" text-anchor="start" fill="#c8262a" stroke="#c8262a" stroke-width="0" style="font-family:&quot;Liberation Sans&quot;,sans-serif;font-size:16.12px;white-space:pre;font-weight:bold;" textLength="58.5" lengthAdjust="spacingAndGlyphs">"Сутки"</text><text transform="translate(834 237.52) scale(0.92 1)" text-anchor="middle" fill="#111" stroke="#111" stroke-width="0.3" style="font-family:&quot;Liberation Sans&quot;,sans-serif;font-size:14.56px;white-space:pre;">SA2</text><path d="M840.5 277.5 L864.5 277.5" stroke="#111" stroke-width="1.6" fill="none" stroke-linecap="butt" stroke-linejoin="miter"/><path d="M840.5 282 L864.5 282" stroke="#111" stroke-width="1.6" fill="none" stroke-linecap="butt" stroke-linejoin="miter"/><path d="M852.5 282 L852.5 322.5" stroke="#111" stroke-width="1.5" fill="none" stroke-linecap="butt" stroke-linejoin="miter"/><path d="M841 322.5 L864 322.5" stroke="#111" stroke-width="3.2" fill="none" stroke-linecap="butt" stroke-linejoin="miter"/><text transform="translate(841.5 275.02) scale(1 1)" text-anchor="middle" fill="#111" stroke="#111" stroke-width="0" style="font-family:&quot;Liberation Sans&quot;,sans-serif;font-size:14.56px;white-space:pre;font-weight:bold;">+</text><text transform="translate(886 270.02) scale(0.92 1)" text-anchor="middle" fill="#111" stroke="#111" stroke-width="0.3" style="font-family:&quot;Liberation Sans&quot;,sans-serif;font-size:14.56px;white-space:pre;">C8</text><text transform="translate(888 284.84) scale(0.92 1)" text-anchor="middle" fill="#111" stroke="#111" stroke-width="0.3" style="font-family:&quot;Liberation Sans&quot;,sans-serif;font-size:14.04px;white-space:pre;">47мк</text><text transform="translate(887 299.34) scale(0.92 1)" text-anchor="middle" fill="#111" stroke="#111" stroke-width="0.3" style="font-family:&quot;Liberation Sans&quot;,sans-serif;font-size:14.04px;white-space:pre;">x10B</text><path d="M852.4 137.3 L874.6 137.3" stroke="#111" stroke-width="1.5" fill="none" stroke-linecap="butt" stroke-linejoin="miter"/><rect x="874.6" y="124.7" width="27.9" height="45.3" fill="none" stroke="#111" stroke-width="1.5"/><text transform="translate(888.55 143.33) scale(1 1)" text-anchor="middle" fill="#111" stroke="#111" stroke-width="0.3" style="font-family:&quot;Liberation Sans&quot;,sans-serif;font-size:21.84px;white-space:pre;">&amp;</text><path d="M882.25 164.9 L890.05 164.9 L890.05 152.9" stroke="#111" stroke-width="1.3" fill="none" stroke-linecap="butt" stroke-linejoin="miter"/><path d="M885.35 164.9 L885.35 152.9 L893.25 152.9" stroke="#111" stroke-width="1.3" fill="none" stroke-linecap="butt" stroke-linejoin="miter"/><circle cx="902.5" cy="147.5" r="5" fill="#fff" stroke="#111" stroke-width="1.4"/><text transform="translate(864.4 134.62) scale(0.92 1)" text-anchor="middle" fill="#111" stroke="#111" stroke-width="0.3" style="font-family:&quot;Liberation Sans&quot;,sans-serif;font-size:14.56px;white-space:pre;">8</text><text transform="translate(864.4 153.22) scale(0.92 1)" text-anchor="middle" fill="#111" stroke="#111" stroke-width="0.3" style="font-family:&quot;Liberation Sans&quot;,sans-serif;font-size:14.56px;white-space:pre;">9</text><path d="M889.5 170 L889.5 196" stroke="#111" stroke-width="1.5" fill="none" stroke-linecap="butt" stroke-linejoin="miter"/><path d="M878 196 L901 196" stroke="#111" stroke-width="3.2" fill="none" stroke-linecap="butt" stroke-linejoin="miter"/><text transform="translate(894.5 186.02) scale(0.92 1)" text-anchor="middle" fill="#111" stroke="#111" stroke-width="0.3" style="font-family:&quot;Liberation Sans&quot;,sans-serif;font-size:14.56px;white-space:pre;">7</text><text x="867" y="114.72" text-anchor="start" fill="#111" stroke="#111" stroke-width="0.3" style="font-family:&quot;Liberation Sans&quot;,sans-serif;font-size:14.56px;white-space:pre;" textLength="40.1" lengthAdjust="spacingAndGlyphs">DD2.2</text><path d="M907.5 147.5 L954 147.5" stroke="#111" stroke-width="1.5" fill="none" stroke-linecap="butt" stroke-linejoin="miter"/><circle cx="929" cy="147.5" r="2.1" fill="#111"/><text transform="translate(915.5 142.02) scale(0.92 1)" text-anchor="middle" fill="#111" stroke="#111" stroke-width="0.3" style="font-family:&quot;Liberation Sans&quot;,sans-serif;font-size:14.56px;white-space:pre;">10</text><path d="M954 127 L929 127 L929 147.5" stroke="#111" stroke-width="1.5" fill="none" stroke-linecap="butt" stroke-linejoin="miter"/><rect x="954" y="114.2" width="28" height="45.8" fill="none" stroke="#111" stroke-width="1.5"/><text transform="translate(968 132.83) scale(1 1)" text-anchor="middle" fill="#111" stroke="#111" stroke-width="0.3" style="font-family:&quot;Liberation Sans&quot;,sans-serif;font-size:21.84px;white-space:pre;">&amp;</text><path d="M961.7 154.9 L969.5 154.9 L969.5 142.9" stroke="#111" stroke-width="1.3" fill="none" stroke-linecap="butt" stroke-linejoin="miter"/><path d="M964.8 154.9 L964.8 142.9 L972.7 142.9" stroke="#111" stroke-width="1.3" fill="none" stroke-linecap="butt" stroke-linejoin="miter"/><circle cx="982" cy="137" r="5" fill="#fff" stroke="#111" stroke-width="1.4"/><text transform="translate(944.5 121.02) scale(0.92 1)" text-anchor="middle" fill="#111" stroke="#111" stroke-width="0.3" style="font-family:&quot;Liberation Sans&quot;,sans-serif;font-size:14.56px;white-space:pre;">5</text><text transform="translate(944.5 142.52) scale(0.92 1)" text-anchor="middle" fill="#111" stroke="#111" stroke-width="0.3" style="font-family:&quot;Liberation Sans&quot;,sans-serif;font-size:14.56px;white-space:pre;">6</text><text x="947.9" y="177.32" text-anchor="start" fill="#111" stroke="#111" stroke-width="0.3" style="font-family:&quot;Liberation Sans&quot;,sans-serif;font-size:14.56px;white-space:pre;" textLength="40.1" lengthAdjust="spacingAndGlyphs">DD2.3</text><path d="M987 137 L1036 137" stroke="#111" stroke-width="1.5" fill="none" stroke-linecap="butt" stroke-linejoin="miter"/><path d="M994.3 133.8 L1000.7 140.2" stroke="#111" stroke-width="1.2" fill="none" stroke-linecap="butt" stroke-linejoin="miter"/><path d="M994.3 140.2 L1000.7 133.8" stroke="#111" stroke-width="1.2" fill="none" stroke-linecap="butt" stroke-linejoin="miter"/><circle cx="1008" cy="137" r="2.1" fill="#111"/><text transform="translate(992.5 132.52) scale(0.92 1)" text-anchor="middle" fill="#111" stroke="#111" stroke-width="0.3" style="font-family:&quot;Liberation Sans&quot;,sans-serif;font-size:14.56px;white-space:pre;">4</text><text transform="translate(1025 131.02) scale(0.92 1)" text-anchor="middle" fill="#111" stroke="#111" stroke-width="0.3" style="font-family:&quot;Liberation Sans&quot;,sans-serif;font-size:14.56px;white-space:pre;">10</text><path d="M1008 137 L1008 111" stroke="#111" stroke-width="1.5" fill="none" stroke-linecap="butt" stroke-linejoin="miter"/><path d="M1001 104.5 L1008 111 L1015 104.5" stroke="#111" stroke-width="1.3" fill="none" stroke-linecap="butt" stroke-linejoin="miter"/><text x="993.6" y="101.82" text-anchor="start" fill="#111" stroke="#111" stroke-width="0.3" style="font-family:&quot;Liberation Sans&quot;,sans-serif;font-size:14.56px;white-space:pre;" textLength="26.4" lengthAdjust="spacingAndGlyphs">KT2</text><path d="M992 144.8 L998.3 144.8 L998.3 160.6 L1005.7 160.6" stroke="#c8262a" stroke-width="1.6" fill="none" stroke-linecap="butt" stroke-linejoin="miter"/><path d="M998.3 146 L998.3 151" stroke="#c8262a" stroke-width="1.6" fill="none" stroke-linecap="butt" stroke-linejoin="miter"/><path d="M998.3 158 L995.5 151 L1001.1 151 Z" fill="#c8262a"/><path d="M929 30 L929 59" stroke="#111" stroke-width="1.5" fill="none" stroke-linecap="butt" stroke-linejoin="miter"/><path d="M916.5 59 L941.5 59" stroke="#111" stroke-width="1.6" fill="none" stroke-linecap="butt" stroke-linejoin="miter"/><path d="M916.5 63.5 L941.5 63.5" stroke="#111" stroke-width="1.6" fill="none" stroke-linecap="butt" stroke-linejoin="miter"/><path d="M929 63.5 L929 90.5" stroke="#111" stroke-width="1.5" fill="none" stroke-linecap="butt" stroke-linejoin="miter"/><path d="M916.5 90.5 L941.5 90.5" stroke="#111" stroke-width="3.2" fill="none" stroke-linecap="butt" stroke-linejoin="miter"/><text transform="translate(960 51.02) scale(0.92 1)" text-anchor="middle" fill="#111" stroke="#111" stroke-width="0.3" style="font-family:&quot;Liberation Sans&quot;,sans-serif;font-size:14.56px;white-space:pre;">C9</text><text transform="translate(964 66.02) scale(0.92 1)" text-anchor="middle" fill="#111" stroke="#111" stroke-width="0.3" style="font-family:&quot;Liberation Sans&quot;,sans-serif;font-size:14.56px;white-space:pre;">0,022</text><text transform="translate(962.5 79.81) scale(0.92 1)" text-anchor="middle" fill="#111" stroke="#111" stroke-width="0.3" style="font-family:&quot;Liberation Sans&quot;,sans-serif;font-size:12.48px;white-space:pre;">мк</text><text x="1001" y="50.95" text-anchor="start" fill="#111" stroke="#111" stroke-width="0" style="font-family:&quot;Liberation Sans&quot;,sans-serif;font-size:11.44px;white-space:pre;font-weight:bold;" textLength="76.5" lengthAdjust="spacingAndGlyphs">"P" 1987, №1,</text><text x="1011" y="62.95" text-anchor="start" fill="#111" stroke="#111" stroke-width="0" style="font-family:&quot;Liberation Sans&quot;,sans-serif;font-size:11.44px;white-space:pre;font-weight:bold;" textLength="55" lengthAdjust="spacingAndGlyphs">с. 44, р.30</text><path d="M1081 30 L1081 75.5" stroke="#111" stroke-width="1.5" fill="none" stroke-linecap="butt" stroke-linejoin="miter"/><text transform="translate(1092 73.02) scale(0.92 1)" text-anchor="middle" fill="#111" stroke="#111" stroke-width="0.3" style="font-family:&quot;Liberation Sans&quot;,sans-serif;font-size:14.56px;white-space:pre;">16</text><rect x="1036" y="75.5" width="91" height="198.5" fill="none" stroke="#111" stroke-width="1.5"/><path d="M1062 75.5 L1062 274" stroke="#111" stroke-width="1.5" fill="none" stroke-linecap="butt" stroke-linejoin="miter"/><path d="M1096 75.5 L1096 274" stroke="#111" stroke-width="1.5" fill="none" stroke-linecap="butt" stroke-linejoin="miter"/><text transform="translate(1121 44.02) scale(0.92 1)" text-anchor="middle" fill="#111" stroke="#111" stroke-width="0.3" style="font-family:&quot;Liberation Sans&quot;,sans-serif;font-size:14.56px;white-space:pre;">DD3</text><text x="1087.5" y="59.52" text-anchor="start" fill="#111" stroke="#111" stroke-width="0.3" style="font-family:&quot;Liberation Sans&quot;,sans-serif;font-size:14.56px;white-space:pre;" textLength="61.5" lengthAdjust="spacingAndGlyphs">К561ИЕ16</text><text transform="translate(1079 97.52) scale(0.92 1)" text-anchor="middle" fill="#111" stroke="#111" stroke-width="0.3" style="font-family:&quot;Liberation Sans&quot;,sans-serif;font-size:14.56px;white-space:pre;">CT2</text><text transform="translate(1047.5 141.02) scale(0.92 1)" text-anchor="middle" fill="#111" stroke="#111" stroke-width="0.3" style="font-family:&quot;Liberation Sans&quot;,sans-serif;font-size:14.56px;white-space:pre;">C</text><text transform="translate(1049.5 248.02) scale(0.92 1)" text-anchor="middle" fill="#111" stroke="#111" stroke-width="0.3" style="font-family:&quot;Liberation Sans&quot;,sans-serif;font-size:14.56px;white-space:pre;">R</text><text transform="translate(1105.8 97.52) scale(0.92 1)" text-anchor="middle" fill="#111" stroke="#111" stroke-width="0.3" style="font-family:&quot;Liberation Sans&quot;,sans-serif;font-size:14.56px;white-space:pre;">2</text><text transform="translate(1111.9 92.33) scale(0.92 1)" text-anchor="start" fill="#111" stroke="#111" stroke-width="0.3" style="font-family:&quot;Liberation Sans&quot;,sans-serif;font-size:11.96px;white-space:pre;">0</text><text transform="translate(1105.8 112.62) scale(0.92 1)" text-anchor="middle" fill="#111" stroke="#111" stroke-width="0.3" style="font-family:&quot;Liberation Sans&quot;,sans-serif;font-size:14.56px;white-space:pre;">2</text><text transform="translate(1111.9 107.43) scale(0.92 1)" text-anchor="start" fill="#111" stroke="#111" stroke-width="0.3" style="font-family:&quot;Liberation Sans&quot;,sans-serif;font-size:11.96px;white-space:pre;">3</text><text transform="translate(1105.8 127.72) scale(0.92 1)" text-anchor="middle" fill="#111" stroke="#111" stroke-width="0.3" style="font-family:&quot;Liberation Sans&quot;,sans-serif;font-size:14.56px;white-space:pre;">2</text><text transform="translate(1111.9 122.53) scale(0.92 1)" text-anchor="start" fill="#111" stroke="#111" stroke-width="0.3" style="font-family:&quot;Liberation Sans&quot;,sans-serif;font-size:11.96px;white-space:pre;">4</text><text transform="translate(1105.8 142.82) scale(0.92 1)" text-anchor="middle" fill="#111" stroke="#111" stroke-width="0.3" style="font-family:&quot;Liberation Sans&quot;,sans-serif;font-size:14.56px;white-space:pre;">2</text><text transform="translate(1111.9 137.63) scale(0.92 1)" text-anchor="start" fill="#111" stroke="#111" stroke-width="0.3" style="font-family:&quot;Liberation Sans&quot;,sans-serif;font-size:11.96px;white-space:pre;">5</text><text transform="translate(1105.8 157.92) scale(0.92 1)" text-anchor="middle" fill="#111" stroke="#111" stroke-width="0.3" style="font-family:&quot;Liberation Sans&quot;,sans-serif;font-size:14.56px;white-space:pre;">2</text><text transform="translate(1111.9 152.73) scale(0.92 1)" text-anchor="start" fill="#111" stroke="#111" stroke-width="0.3" style="font-family:&quot;Liberation Sans&quot;,sans-serif;font-size:11.96px;white-space:pre;">6</text><text transform="translate(1105.8 173.02) scale(0.92 1)" text-anchor="middle" fill="#111" stroke="#111" stroke-width="0.3" style="font-family:&quot;Liberation Sans&quot;,sans-serif;font-size:14.56px;white-space:pre;">2</text><text transform="translate(1111.9 167.83) scale(0.92 1)" text-anchor="start" fill="#111" stroke="#111" stroke-width="0.3" style="font-family:&quot;Liberation Sans&quot;,sans-serif;font-size:11.96px;white-space:pre;">7</text><text transform="translate(1105.8 188.12) scale(0.92 1)" text-anchor="middle" fill="#111" stroke="#111" stroke-width="0.3" style="font-family:&quot;Liberation Sans&quot;,sans-serif;font-size:14.56px;white-space:pre;">2</text><text transform="translate(1111.9 182.93) scale(0.92 1)" text-anchor="start" fill="#111" stroke="#111" stroke-width="0.3" style="font-family:&quot;Liberation Sans&quot;,sans-serif;font-size:11.96px;white-space:pre;">8</text><text transform="translate(1105.8 203.22) scale(0.92 1)" text-anchor="middle" fill="#111" stroke="#111" stroke-width="0.3" style="font-family:&quot;Liberation Sans&quot;,sans-serif;font-size:14.56px;white-space:pre;">2</text><text transform="translate(1111.9 198.03) scale(0.92 1)" text-anchor="start" fill="#111" stroke="#111" stroke-width="0.3" style="font-family:&quot;Liberation Sans&quot;,sans-serif;font-size:11.96px;white-space:pre;">9</text><text transform="translate(1105.8 218.32) scale(0.92 1)" text-anchor="middle" fill="#111" stroke="#111" stroke-width="0.3" style="font-family:&quot;Liberation Sans&quot;,sans-serif;font-size:14.56px;white-space:pre;">2</text><text transform="translate(1111.9 213.13) scale(0.92 1)" text-anchor="start" fill="#111" stroke="#111" stroke-width="0.3" style="font-family:&quot;Liberation Sans&quot;,sans-serif;font-size:11.96px;white-space:pre;">10</text><text transform="translate(1105.8 233.42) scale(0.92 1)" text-anchor="middle" fill="#111" stroke="#111" stroke-width="0.3" style="font-family:&quot;Liberation Sans&quot;,sans-serif;font-size:14.56px;white-space:pre;">2</text><text transform="translate(1111.9 228.23) scale(0.92 1)" text-anchor="start" fill="#111" stroke="#111" stroke-width="0.3" style="font-family:&quot;Liberation Sans&quot;,sans-serif;font-size:11.96px;white-space:pre;">11</text><text transform="translate(1105.8 248.52) scale(0.92 1)" text-anchor="middle" fill="#111" stroke="#111" stroke-width="0.3" style="font-family:&quot;Liberation Sans&quot;,sans-serif;font-size:14.56px;white-space:pre;">2</text><text transform="translate(1111.9 243.33) scale(0.92 1)" text-anchor="start" fill="#111" stroke="#111" stroke-width="0.3" style="font-family:&quot;Liberation Sans&quot;,sans-serif;font-size:11.96px;white-space:pre;">12</text><text transform="translate(1105.8 263.62) scale(0.92 1)" text-anchor="middle" fill="#111" stroke="#111" stroke-width="0.3" style="font-family:&quot;Liberation Sans&quot;,sans-serif;font-size:14.56px;white-space:pre;">2</text><text transform="translate(1111.9 258.43) scale(0.92 1)" text-anchor="start" fill="#111" stroke="#111" stroke-width="0.3" style="font-family:&quot;Liberation Sans&quot;,sans-serif;font-size:11.96px;white-space:pre;">13</text><text transform="translate(1139 87.52) scale(0.92 1)" text-anchor="middle" fill="#111" stroke="#111" stroke-width="0.3" style="font-family:&quot;Liberation Sans&quot;,sans-serif;font-size:14.56px;white-space:pre;">9</text><path d="M1127 90.8 L1151.5 90.8" stroke="#111" stroke-width="1.5" fill="none" stroke-linecap="butt" stroke-linejoin="miter"/><text transform="translate(1139 102.87) scale(0.92 1)" text-anchor="middle" fill="#111" stroke="#111" stroke-width="0.3" style="font-family:&quot;Liberation Sans&quot;,sans-serif;font-size:14.56px;white-space:pre;">7</text><path d="M1127 106.15 L1151.5 106.15" stroke="#111" stroke-width="1.5" fill="none" stroke-linecap="butt" stroke-linejoin="miter"/><text transform="translate(1139 118.22) scale(0.92 1)" text-anchor="middle" fill="#111" stroke="#111" stroke-width="0.3" style="font-family:&quot;Liberation Sans&quot;,sans-serif;font-size:14.56px;white-space:pre;">5</text><path d="M1127 121.5 L1151.5 121.5" stroke="#111" stroke-width="1.5" fill="none" stroke-linecap="butt" stroke-linejoin="miter"/><text transform="translate(1139 133.57) scale(0.92 1)" text-anchor="middle" fill="#111" stroke="#111" stroke-width="0.3" style="font-family:&quot;Liberation Sans&quot;,sans-serif;font-size:14.56px;white-space:pre;">4</text><path d="M1127 136.85 L1151.5 136.85" stroke="#111" stroke-width="1.5" fill="none" stroke-linecap="butt" stroke-linejoin="miter"/><text transform="translate(1139 148.92) scale(0.92 1)" text-anchor="middle" fill="#111" stroke="#111" stroke-width="0.3" style="font-family:&quot;Liberation Sans&quot;,sans-serif;font-size:14.56px;white-space:pre;">6</text><path d="M1127 152.2 L1151.5 152.2" stroke="#111" stroke-width="1.5" fill="none" stroke-linecap="butt" stroke-linejoin="miter"/><text transform="translate(1139 164.27) scale(0.92 1)" text-anchor="middle" fill="#111" stroke="#111" stroke-width="0.3" style="font-family:&quot;Liberation Sans&quot;,sans-serif;font-size:14.56px;white-space:pre;">13</text><path d="M1127 167.55 L1151.5 167.55" stroke="#111" stroke-width="1.5" fill="none" stroke-linecap="butt" stroke-linejoin="miter"/><text transform="translate(1139 179.62) scale(0.92 1)" text-anchor="middle" fill="#111" stroke="#111" stroke-width="0.3" style="font-family:&quot;Liberation Sans&quot;,sans-serif;font-size:14.56px;white-space:pre;">12</text><path d="M1127 182.9 L1151.5 182.9" stroke="#111" stroke-width="1.5" fill="none" stroke-linecap="butt" stroke-linejoin="miter"/><text transform="translate(1139 194.97) scale(0.92 1)" text-anchor="middle" fill="#111" stroke="#111" stroke-width="0.3" style="font-family:&quot;Liberation Sans&quot;,sans-serif;font-size:14.56px;white-space:pre;">14</text><path d="M1127 198.25 L1151.5 198.25" stroke="#111" stroke-width="1.5" fill="none" stroke-linecap="butt" stroke-linejoin="miter"/><text transform="translate(1139 210.32) scale(0.92 1)" text-anchor="middle" fill="#111" stroke="#111" stroke-width="0.3" style="font-family:&quot;Liberation Sans&quot;,sans-serif;font-size:14.56px;white-space:pre;">15</text><path d="M1127 213.6 L1151.5 213.6" stroke="#111" stroke-width="1.5" fill="none" stroke-linecap="butt" stroke-linejoin="miter"/><text transform="translate(1139.5 226.02) scale(0.92 1)" text-anchor="middle" fill="#111" stroke="#111" stroke-width="0.3" style="font-family:&quot;Liberation Sans&quot;,sans-serif;font-size:14.56px;white-space:pre;">1</text><text transform="translate(1164 226.02) scale(0.92 1)" text-anchor="middle" fill="#111" stroke="#111" stroke-width="0.3" style="font-family:&quot;Liberation Sans&quot;,sans-serif;font-size:14.56px;white-space:pre;">1</text><text transform="translate(1139.5 241.82) scale(0.92 1)" text-anchor="middle" fill="#111" stroke="#111" stroke-width="0.3" style="font-family:&quot;Liberation Sans&quot;,sans-serif;font-size:14.56px;white-space:pre;">2</text><text transform="translate(1164 241.82) scale(0.92 1)" text-anchor="middle" fill="#111" stroke="#111" stroke-width="0.3" style="font-family:&quot;Liberation Sans&quot;,sans-serif;font-size:14.56px;white-space:pre;">2</text><text transform="translate(1139.5 257.62) scale(0.92 1)" text-anchor="middle" fill="#111" stroke="#111" stroke-width="0.3" style="font-family:&quot;Liberation Sans&quot;,sans-serif;font-size:14.56px;white-space:pre;">3</text><text transform="translate(1164 257.62) scale(0.92 1)" text-anchor="middle" fill="#111" stroke="#111" stroke-width="0.3" style="font-family:&quot;Liberation Sans&quot;,sans-serif;font-size:14.56px;white-space:pre;">3</text><path d="M1127 229.5 L1173 229.5" stroke="#111" stroke-width="1.5" fill="none" stroke-linecap="butt" stroke-linejoin="miter"/><path d="M1127 244.5 L1173 244.5" stroke="#111" stroke-width="1.5" fill="none" stroke-linecap="butt" stroke-linejoin="miter"/><path d="M1127 258.5 L1173.2 258.5 L1173.2 244.5" stroke="#111" stroke-width="1.5" fill="none" stroke-linecap="butt" stroke-linejoin="miter"/><path d="M1173 94 L1173 244.5" stroke="#111" stroke-width="3" fill="none" stroke-linecap="butt" stroke-linejoin="miter"/><path d="M1173 75.5 L1173 94" stroke="#111" stroke-width="1.5" fill="none" stroke-linecap="butt" stroke-linejoin="miter"/><path d="M1173 75.5 L1206 75.5" stroke="#111" stroke-width="1.5" fill="none" stroke-linecap="butt" stroke-linejoin="miter"/><path d="M1205 75.5 L1226 75.5" stroke="#111" stroke-width="3.2" fill="none" stroke-linecap="butt" stroke-linejoin="miter"/><path d="M1173 94 L1206 94" stroke="#111" stroke-width="1.5" fill="none" stroke-linecap="butt" stroke-linejoin="miter"/><path d="M1205 94 L1226 94" stroke="#111" stroke-width="3.2" fill="none" stroke-linecap="butt" stroke-linejoin="miter"/><path d="M1173 112.5 L1206 112.5" stroke="#111" stroke-width="1.5" fill="none" stroke-linecap="butt" stroke-linejoin="miter"/><path d="M1205 112.5 L1226 112.5" stroke="#111" stroke-width="3.2" fill="none" stroke-linecap="butt" stroke-linejoin="miter"/><path d="M1191 130.5 L1206 130.5" stroke="#111" stroke-width="1.5" fill="none" stroke-linecap="butt" stroke-linejoin="miter"/><path d="M1205 130.5 L1226 130.5" stroke="#111" stroke-width="3.2" fill="none" stroke-linecap="butt" stroke-linejoin="miter"/><path d="M1191 149 L1206 149" stroke="#111" stroke-width="1.5" fill="none" stroke-linecap="butt" stroke-linejoin="miter"/><path d="M1205 149 L1226 149" stroke="#111" stroke-width="3.2" fill="none" stroke-linecap="butt" stroke-linejoin="miter"/><text transform="translate(1184.5 70.52) scale(0.92 1)" text-anchor="middle" fill="#111" stroke="#111" stroke-width="0.3" style="font-family:&quot;Liberation Sans&quot;,sans-serif;font-size:14.56px;white-space:pre;">1</text><text transform="translate(1184.5 91.02) scale(0.92 1)" text-anchor="middle" fill="#111" stroke="#111" stroke-width="0.3" style="font-family:&quot;Liberation Sans&quot;,sans-serif;font-size:14.56px;white-space:pre;">2</text><text transform="translate(1184.5 109.52) scale(0.92 1)" text-anchor="middle" fill="#111" stroke="#111" stroke-width="0.3" style="font-family:&quot;Liberation Sans&quot;,sans-serif;font-size:14.56px;white-space:pre;">3</text><text transform="translate(1216 72.52) scale(0.92 1)" text-anchor="middle" fill="#c8262a" stroke="#c8262a" stroke-width="0.3" style="font-family:&quot;Liberation Sans&quot;,sans-serif;font-size:14.56px;white-space:pre;">"1"</text><text transform="translate(1216 91.02) scale(0.92 1)" text-anchor="middle" fill="#c8262a" stroke="#c8262a" stroke-width="0.3" style="font-family:&quot;Liberation Sans&quot;,sans-serif;font-size:14.56px;white-space:pre;">"2"</text><text transform="translate(1216 108.02) scale(0.92 1)" text-anchor="middle" fill="#c8262a" stroke="#c8262a" stroke-width="0.3" style="font-family:&quot;Liberation Sans&quot;,sans-serif;font-size:14.56px;white-space:pre;">"4"</text><text transform="translate(1216 127.02) scale(1 1)" text-anchor="middle" fill="#c8262a" stroke="#c8262a" stroke-width="0" style="font-family:&quot;Liberation Sans&quot;,sans-serif;font-size:14.56px;white-space:pre;font-weight:bold;">"Уст."</text><text transform="translate(1216 146.02) scale(0.92 1)" text-anchor="middle" fill="#c8262a" stroke="#c8262a" stroke-width="0.3" style="font-family:&quot;Liberation Sans&quot;,sans-serif;font-size:14.56px;white-space:pre;">"16"</text><path d="M1231 75.5 L1252.5 75.5" stroke="#111" stroke-width="3" fill="none" stroke-linecap="butt" stroke-linejoin="miter"/><path d="M1242.5 150 L1242.5 61 L1265 61 L1265 335.5" stroke="#111" stroke-width="1.5" fill="none" stroke-linecap="butt" stroke-linejoin="miter"/><text transform="translate(1184.5 44.02) scale(0.92 1)" text-anchor="middle" fill="#111" stroke="#111" stroke-width="0.3" style="font-family:&quot;Liberation Sans&quot;,sans-serif;font-size:14.56px;white-space:pre;">SA3</text><text x="1206" y="44.02" text-anchor="start" fill="#c8262a" stroke="#c8262a" stroke-width="0" style="font-family:&quot;Liberation Sans&quot;,sans-serif;font-size:14.56px;white-space:pre;font-weight:bold;" textLength="60" lengthAdjust="spacingAndGlyphs">"Сутки"</text><text transform="translate(1214.5 175.52) scale(0.92 1)" text-anchor="middle" fill="#111" stroke="#111" stroke-width="0.3" style="font-family:&quot;Liberation Sans&quot;,sans-serif;font-size:14.56px;white-space:pre;">ПМ</text><text transform="translate(1214.5 192.02) scale(0.92 1)" text-anchor="middle" fill="#111" stroke="#111" stroke-width="0.3" style="font-family:&quot;Liberation Sans&quot;,sans-serif;font-size:14.56px;white-space:pre;">11П1Н</text><path d="M1184.5 231.1 L1187.2 231.1 L1187.2 216.2 L1237.8 216.2" stroke="#1f1f9e" stroke-width="1.5" fill="none" stroke-linecap="butt" stroke-linejoin="miter"/><path d="M1187.2 227.2 L1187.2 225.4" stroke="#1f1f9e" stroke-width="1.5" fill="none" stroke-linecap="butt" stroke-linejoin="miter"/><path d="M1187.2 218.4 L1189.6 225.4 L1184.8 225.4 Z" fill="#1f1f9e"/><text x="1194" y="230.84" text-anchor="start" fill="#111" stroke="#111" stroke-width="0.3" style="font-family:&quot;Liberation Sans&quot;,sans-serif;font-size:14.04px;white-space:pre;" textLength="43.8" lengthAdjust="spacingAndGlyphs">2048-й</text><path d="M1184.5 251.1 L1187.2 251.1 L1187.2 236.7 L1237.8 236.7" stroke="#1f1f9e" stroke-width="1.5" fill="none" stroke-linecap="butt" stroke-linejoin="miter"/><path d="M1187.2 247.7 L1187.2 245.9" stroke="#1f1f9e" stroke-width="1.5" fill="none" stroke-linecap="butt" stroke-linejoin="miter"/><path d="M1187.2 238.9 L1189.6 245.9 L1184.8 245.9 Z" fill="#1f1f9e"/><text x="1194" y="250.24" text-anchor="start" fill="#111" stroke="#111" stroke-width="0.3" style="font-family:&quot;Liberation Sans&quot;,sans-serif;font-size:14.04px;white-space:pre;" textLength="43.8" lengthAdjust="spacingAndGlyphs">4096-й</text><path d="M1184.5 270.6 L1187.2 270.6 L1187.2 255.3 L1237.8 255.3" stroke="#1f1f9e" stroke-width="1.5" fill="none" stroke-linecap="butt" stroke-linejoin="miter"/><path d="M1187.2 266.3 L1187.2 264.5" stroke="#1f1f9e" stroke-width="1.5" fill="none" stroke-linecap="butt" stroke-linejoin="miter"/><path d="M1187.2 257.5 L1189.6 264.5 L1184.8 264.5 Z" fill="#1f1f9e"/><text x="1194" y="268.14" text-anchor="start" fill="#111" stroke="#111" stroke-width="0.3" style="font-family:&quot;Liberation Sans&quot;,sans-serif;font-size:14.04px;white-space:pre;" textLength="43.8" lengthAdjust="spacingAndGlyphs">8192-й</text><text transform="translate(1025 240.02) scale(0.92 1)" text-anchor="middle" fill="#111" stroke="#111" stroke-width="0.3" style="font-family:&quot;Liberation Sans&quot;,sans-serif;font-size:14.56px;white-space:pre;">11</text><path d="M1068.5 247.2 L1071.3 247.2 L1071.3 234.8 L1085.6 234.8 L1085.6 247.2 L1087.7 247.2" stroke="#c0393c" stroke-width="1.6" fill="none" stroke-linecap="butt" stroke-linejoin="miter"/><text x="1065.6" y="259.27" text-anchor="start" fill="#111" stroke="#111" stroke-width="0" style="font-family:&quot;Liberation Sans&quot;,sans-serif;font-size:10.92px;white-space:pre;font-weight:bold;" textLength="24.9" lengthAdjust="spacingAndGlyphs">&gt;550</text><text transform="translate(1079.8 271.37) scale(1 1)" text-anchor="middle" fill="#111" stroke="#111" stroke-width="0" style="font-family:&quot;Liberation Sans&quot;,sans-serif;font-size:10.92px;white-space:pre;font-weight:bold;">нс</text><path d="M1081 274 L1081 322.5" stroke="#111" stroke-width="1.5" fill="none" stroke-linecap="butt" stroke-linejoin="miter"/><path d="M1069.5 322.5 L1092.5 322.5" stroke="#111" stroke-width="3.2" fill="none" stroke-linecap="butt" stroke-linejoin="miter"/><text transform="translate(1089.5 289.52) scale(0.92 1)" text-anchor="middle" fill="#111" stroke="#111" stroke-width="0.3" style="font-family:&quot;Liberation Sans&quot;,sans-serif;font-size:14.56px;white-space:pre;">8</text><rect x="937" y="202.5" width="60" height="32" fill="none" stroke="#777" stroke-width="1.2"/><path d="M946.4 224.4 L949.9 224.4 L949.9 207.1 L992.6 207.1" stroke="#1f1f9e" stroke-width="1.5" fill="none" stroke-linecap="butt" stroke-linejoin="miter"/><path d="M949.9 218 L949.9 215.2" stroke="#1f1f9e" stroke-width="1.5" fill="none" stroke-linecap="butt" stroke-linejoin="miter"/><path d="M949.9 208.2 L952.4 215.2 L947.4 215.2 Z" fill="#1f1f9e"/><text x="957.4" y="220.22" text-anchor="start" fill="#111" stroke="#111" stroke-width="0.3" style="font-family:&quot;Liberation Sans&quot;,sans-serif;font-size:14.56px;white-space:pre;" textLength="32.4" lengthAdjust="spacingAndGlyphs">64-й</text><path d="M940.5 228 L992 228" stroke="#111" stroke-width="1.3" fill="none" stroke-linecap="butt" stroke-linejoin="miter"/><path d="M964.2 225.2 L969.8 230.8" stroke="#111" stroke-width="1.2" fill="none" stroke-linecap="butt" stroke-linejoin="miter"/><path d="M964.2 230.8 L969.8 225.2" stroke="#111" stroke-width="1.2" fill="none" stroke-linecap="butt" stroke-linejoin="miter"/><path d="M999 200 L1099 156" stroke="#111" stroke-width="1" fill="none" stroke-linecap="butt" stroke-linejoin="miter"/><path d="M104 335.5 L1265 335.5" stroke="#111" stroke-width="1.5" fill="none" stroke-linecap="butt" stroke-linejoin="miter"/><path d="M104 335.5 L104 625.5" stroke="#111" stroke-width="1.5" fill="none" stroke-linecap="butt" stroke-linejoin="miter"/><path d="M12 366 L699.5 366" stroke="#111" stroke-width="1.5" fill="none" stroke-linecap="butt" stroke-linejoin="miter"/><circle cx="58" cy="366" r="2.1" fill="#111"/><circle cx="180.5" cy="366" r="2.1" fill="#111"/><circle cx="349" cy="366" r="2.1" fill="#111"/><circle cx="379.5" cy="366" r="2.1" fill="#111"/><circle cx="593" cy="366" r="2.1" fill="#111"/><circle cx="684.5" cy="366" r="2.1" fill="#111"/><path d="M684.5 30 L684.5 366" stroke="#111" stroke-width="1.5" fill="none" stroke-linecap="butt" stroke-linejoin="miter"/><path d="M699.5 366 L699.5 539.8" stroke="#111" stroke-width="1.5" fill="none" stroke-linecap="butt" stroke-linejoin="miter"/><rect x="694.5" y="430.5" width="10" height="26.5" fill="#fff" stroke="#111" stroke-width="1.4"/><path d="M696.9 444.65 L702.1 435.85" stroke="#111" stroke-width="1.1" fill="none" stroke-linecap="butt" stroke-linejoin="miter"/><path d="M696.9 451.65 L702.1 442.85" stroke="#111" stroke-width="1.1" fill="none" stroke-linecap="butt" stroke-linejoin="miter"/><circle cx="699.5" cy="519" r="2.1" fill="#111"/><text transform="translate(724 441.02) scale(0.92 1)" text-anchor="middle" fill="#111" stroke="#111" stroke-width="0.3" style="font-family:&quot;Liberation Sans&quot;,sans-serif;font-size:14.56px;white-space:pre;">R11</text><text transform="translate(724 456.02) scale(0.92 1)" text-anchor="middle" fill="#111" stroke="#111" stroke-width="0.3" style="font-family:&quot;Liberation Sans&quot;,sans-serif;font-size:14.56px;white-space:pre;">2,7k</text><path d="M593 366 L593 395.5" stroke="#111" stroke-width="1.5" fill="none" stroke-linecap="butt" stroke-linejoin="miter"/><path d="M581 395.5 L605 395.5" stroke="#111" stroke-width="1.6" fill="none" stroke-linecap="butt" stroke-linejoin="miter"/><path d="M581 399.5 L605 399.5" stroke="#111" stroke-width="1.6" fill="none" stroke-linecap="butt" stroke-linejoin="miter"/><path d="M593 399.5 L593 426" stroke="#111" stroke-width="1.5" fill="none" stroke-linecap="butt" stroke-linejoin="miter"/><path d="M581.5 426 L604.5 426" stroke="#111" stroke-width="3.2" fill="none" stroke-linecap="butt" stroke-linejoin="miter"/><text x="599.8" y="386.6" text-anchor="start" fill="#111" stroke="#111" stroke-width="0.3" style="font-family:&quot;Liberation Sans&quot;,sans-serif;font-size:15.08px;white-space:pre;" textLength="9.5" lengthAdjust="spacingAndGlyphs">С</text><text x="609.8" y="389.8" text-anchor="start" fill="#111" stroke="#111" stroke-width="0.3" style="font-family:&quot;Liberation Sans&quot;,sans-serif;font-size:15.08px;white-space:pre;" textLength="26.5" lengthAdjust="spacingAndGlyphs">доп</text><text x="643.5" y="387.52" text-anchor="start" fill="#111" stroke="#111" stroke-width="0.3" style="font-family:&quot;Liberation Sans&quot;,sans-serif;font-size:14.56px;white-space:pre;" textLength="52.5" lengthAdjust="spacingAndGlyphs">0,022мк</text><path d="M638.6 397 L989.5 397" stroke="#111" stroke-width="1.5" fill="none" stroke-linecap="butt" stroke-linejoin="miter"/><circle cx="776" cy="397" r="2.1" fill="#111"/><circle cx="837.1" cy="397" r="2.1" fill="#111"/><circle cx="929" cy="397" r="2.1" fill="#111"/><path d="M638.6 397 L638.6 457.4" stroke="#111" stroke-width="1.5" fill="none" stroke-linecap="butt" stroke-linejoin="miter"/><circle cx="638.6" cy="443.8" r="13.6" fill="none" stroke="#111" stroke-width="1.5"/><path d="M631.6 437.9 L645.6 437.9 L638.6 450 L631.6 437.9" stroke="#111" stroke-width="1.4" fill="none" stroke-linecap="butt" stroke-linejoin="miter"/><path d="M631.6 450 L645.6 450" stroke="#111" stroke-width="1.5" fill="none" stroke-linecap="butt" stroke-linejoin="miter"/><path d="M646.6 427.7 L650.77 423.08" stroke="#111" stroke-width="1.2" fill="none" stroke-linecap="butt" stroke-linejoin="miter"/><path d="M656.8 416.4 L653.59 425.63 L647.95 420.53 Z" fill="#111"/><path d="M651.7 432.4 L656.05 427.88" stroke="#111" stroke-width="1.2" fill="none" stroke-linecap="butt" stroke-linejoin="miter"/><path d="M662.3 421.4 L658.79 430.52 L653.32 425.24 Z" fill="#111"/><text x="663.4" y="442.32" text-anchor="start" fill="#111" stroke="#111" stroke-width="0.3" style="font-family:&quot;Liberation Sans&quot;,sans-serif;font-size:14.56px;white-space:pre;" textLength="24" lengthAdjust="spacingAndGlyphs">HL3</text><text x="656" y="456.02" text-anchor="start" fill="#111" stroke="#111" stroke-width="0.3" style="font-family:&quot;Liberation Sans&quot;,sans-serif;font-size:14.56px;white-space:pre;" textLength="29" lengthAdjust="spacingAndGlyphs">МВН</text><path d="M638.6 457.4 L638.6 488.3 L656 488.3" stroke="#111" stroke-width="1.5" fill="none" stroke-linecap="butt" stroke-linejoin="miter"/><rect x="656" y="483.9" width="27" height="9.2" fill="#fff" stroke="#111" stroke-width="1.4"/><path d="M660.5 486.1 L670.5 490.9" stroke="#111" stroke-width="1.1" fill="none" stroke-linecap="butt" stroke-linejoin="miter"/><path d="M668.5 486.1 L678.5 490.9" stroke="#111" stroke-width="1.1" fill="none" stroke-linecap="butt" stroke-linejoin="miter"/><path d="M683 488 L929 488" stroke="#111" stroke-width="1.5" fill="none" stroke-linecap="butt" stroke-linejoin="miter"/><circle cx="776" cy="488" r="2.1" fill="#111"/><circle cx="837.1" cy="488" r="2.1" fill="#111"/><circle cx="929" cy="488" r="2.1" fill="#111"/><text transform="translate(666 479.02) scale(0.92 1)" text-anchor="middle" fill="#111" stroke="#111" stroke-width="0.3" style="font-family:&quot;Liberation Sans&quot;,sans-serif;font-size:14.56px;white-space:pre;">R10 1k</text><text x="751" y="384.52" text-anchor="start" fill="#111" stroke="#111" stroke-width="0.3" style="font-family:&quot;Liberation Sans&quot;,sans-serif;font-size:14.56px;white-space:pre;" textLength="170" lengthAdjust="spacingAndGlyphs">HL3  ARL-5213 UYC(жёлт)</text><path d="M776 397 L776 442" stroke="#111" stroke-width="1.5" fill="none" stroke-linecap="butt" stroke-linejoin="miter"/><path d="M764 442 L788 442" stroke="#111" stroke-width="1.6" fill="none" stroke-linecap="butt" stroke-linejoin="miter"/><path d="M764 447 L788 447" stroke="#111" stroke-width="1.6" fill="none" stroke-linecap="butt" stroke-linejoin="miter"/><path d="M776 447 L776 559.5" stroke="#111" stroke-width="1.5" fill="none" stroke-linecap="butt" stroke-linejoin="miter"/><circle cx="776" cy="519" r="2.1" fill="#111"/><text transform="translate(805 434.52) scale(0.92 1)" text-anchor="middle" fill="#111" stroke="#111" stroke-width="0.3" style="font-family:&quot;Liberation Sans&quot;,sans-serif;font-size:14.56px;white-space:pre;">C15</text><text transform="translate(805 449.52) scale(0.92 1)" text-anchor="middle" fill="#111" stroke="#111" stroke-width="0.3" style="font-family:&quot;Liberation Sans&quot;,sans-serif;font-size:14.56px;white-space:pre;">0,68</text><text transform="translate(805 461.81) scale(0.92 1)" text-anchor="middle" fill="#111" stroke="#111" stroke-width="0.3" style="font-family:&quot;Liberation Sans&quot;,sans-serif;font-size:12.48px;white-space:pre;">мк</text><path d="M837.1 397 L837.1 407.8" stroke="#111" stroke-width="1.5" fill="none" stroke-linecap="butt" stroke-linejoin="miter"/><path d="M829.2 414.2 L837.1 407.8 L844.9 414.2" stroke="#111" stroke-width="1.3" fill="none" stroke-linecap="butt" stroke-linejoin="miter"/><path d="M829.2 422 L837.1 415.6 L844.9 422" stroke="#111" stroke-width="1.3" fill="none" stroke-linecap="butt" stroke-linejoin="miter"/><path d="M837.1 415.6 L837.1 432" stroke="#111" stroke-width="1.5" fill="none" stroke-linecap="butt" stroke-linejoin="miter"/><circle cx="837.1" cy="443.4" r="11.4" fill="none" stroke="#111" stroke-width="1.5"/><rect x="828.5" y="430.9" width="17.1" height="3.4" fill="#111"/><rect x="828.5" y="452.3" width="17.1" height="3.4" fill="#111"/><text x="0" y="0" transform="translate(837.2 443.2) rotate(-90)" text-anchor="middle" dominant-baseline="central" style="font-family:&quot;Liberation Serif&quot;,serif;font-size:14px;font-weight:bold" fill="#111">M</text><path d="M837.1 455.7 L837.1 469.7" stroke="#111" stroke-width="1.5" fill="none" stroke-linecap="butt" stroke-linejoin="miter"/><path d="M829.2 463.3 L837.1 469.7 L844.9 463.3" stroke="#111" stroke-width="1.3" fill="none" stroke-linecap="butt" stroke-linejoin="miter"/><path d="M829.2 471.2 L837.1 477.6 L844.9 471.2" stroke="#111" stroke-width="1.3" fill="none" stroke-linecap="butt" stroke-linejoin="miter"/><path d="M837.1 477.6 L837.1 539.4" stroke="#111" stroke-width="1.5" fill="none" stroke-linecap="butt" stroke-linejoin="miter"/><text transform="translate(858.8 415.72) scale(0.92 1)" text-anchor="middle" fill="#111" stroke="#111" stroke-width="0.3" style="font-family:&quot;Liberation Sans&quot;,sans-serif;font-size:14.56px;white-space:pre;">X2</text><text transform="translate(852.3 430.91) scale(1 1)" text-anchor="middle" fill="#111" stroke="#111" stroke-width="0" style="font-family:&quot;Liberation Sans&quot;,sans-serif;font-size:12.48px;white-space:pre;font-weight:bold;">+</text><text transform="translate(876 440.52) scale(0.92 1)" text-anchor="middle" fill="#111" stroke="#111" stroke-width="0.3" style="font-family:&quot;Liberation Sans&quot;,sans-serif;font-size:14.56px;white-space:pre;">M1</text><text x="852" y="455.12" text-anchor="start" fill="#111" stroke="#111" stroke-width="0.3" style="font-family:&quot;Liberation Sans&quot;,sans-serif;font-size:17.16px;white-space:pre;" textLength="58.3" lengthAdjust="spacingAndGlyphs">"Насос"</text><path d="M929 397 L929 539.7" stroke="#111" stroke-width="1.5" fill="none" stroke-linecap="butt" stroke-linejoin="miter"/><path d="M922 450.4 L936 450.4 L929 436.6 L922 450.4" stroke="#111" stroke-width="1.4" fill="none" stroke-linecap="butt" stroke-linejoin="miter"/><path d="M922 436.6 L936 436.6" stroke="#111" stroke-width="1.5" fill="none" stroke-linecap="butt" stroke-linejoin="miter"/><text x="946.6" y="424.72" text-anchor="start" fill="#111" stroke="#111" stroke-width="0.3" style="font-family:&quot;Liberation Sans&quot;,sans-serif;font-size:14.56px;white-space:pre;" textLength="26.7" lengthAdjust="spacingAndGlyphs">VD6</text><text transform="translate(962 440.24) scale(0.92 1)" text-anchor="middle" fill="#111" stroke="#111" stroke-width="0.3" style="font-family:&quot;Liberation Sans&quot;,sans-serif;font-size:14.04px;white-space:pre;">КД226Д</text><path d="M929 519 L957.5 519 L957.5 498" stroke="#111" stroke-width="1.5" fill="none" stroke-linecap="butt" stroke-linejoin="miter"/><path d="M950.5 491.5 L957.5 498 L964.5 491.5" stroke="#111" stroke-width="1.3" fill="none" stroke-linecap="butt" stroke-linejoin="miter"/><circle cx="929" cy="519" r="2.1" fill="#111"/><text transform="translate(957.5 482.32) scale(0.92 1)" text-anchor="middle" fill="#111" stroke="#111" stroke-width="0.3" style="font-family:&quot;Liberation Sans&quot;,sans-serif;font-size:14.56px;white-space:pre;">KT3</text><path d="M473.6 488.1 L624 488.1" stroke="#111" stroke-width="1.5" fill="none" stroke-linecap="butt" stroke-linejoin="miter"/><path d="M624 488 L624 559.7 L663.6 559.7" stroke="#111" stroke-width="1.5" fill="none" stroke-linecap="butt" stroke-linejoin="miter"/><circle cx="673.6" cy="549.5" r="20" fill="none" stroke="#111" stroke-width="1.4"/><path d="M663.6 540 L663.6 559.7" stroke="#111" stroke-width="1.4" fill="none" stroke-linecap="butt" stroke-linejoin="miter"/><path d="M669.6 535.8 L669.6 542.5" stroke="#111" stroke-width="1.6" fill="none" stroke-linecap="butt" stroke-linejoin="miter"/><path d="M669.6 546.5 L669.6 553.8" stroke="#111" stroke-width="1.6" fill="none" stroke-linecap="butt" stroke-linejoin="miter"/><path d="M669.6 557.2 L669.6 564.5" stroke="#111" stroke-width="1.6" fill="none" stroke-linecap="butt" stroke-linejoin="miter"/><path d="M669.6 539.5 L699.6 539.5" stroke="#111" stroke-width="1.5" fill="none" stroke-linecap="butt" stroke-linejoin="miter"/><path d="M669.6 560.2 L699.6 560.2" stroke="#111" stroke-width="1.5" fill="none" stroke-linecap="butt" stroke-linejoin="miter"/><path d="M670.6 549.9 L684.3 549.9 L684.3 560.2" stroke="#111" stroke-width="1.3" fill="none" stroke-linecap="butt" stroke-linejoin="miter"/><path d="M678.9 545.4 L671.1 549.9 L678.9 554.4" stroke="#111" stroke-width="1.3" fill="none" stroke-linecap="butt" stroke-linejoin="miter"/><path d="M699.6 560.2 L699.6 625.5" stroke="#111" stroke-width="1.5" fill="none" stroke-linecap="butt" stroke-linejoin="miter"/><path d="M699.5 519 L867.9 519" stroke="#111" stroke-width="1.5" fill="none" stroke-linecap="butt" stroke-linejoin="miter"/><circle cx="811" cy="549.4" r="20" fill="none" stroke="#111" stroke-width="1.4"/><path d="M801 539.9 L801 559.6" stroke="#111" stroke-width="1.4" fill="none" stroke-linecap="butt" stroke-linejoin="miter"/><path d="M807 535.7 L807 542.4" stroke="#111" stroke-width="1.6" fill="none" stroke-linecap="butt" stroke-linejoin="miter"/><path d="M807 546.4 L807 553.7" stroke="#111" stroke-width="1.6" fill="none" stroke-linecap="butt" stroke-linejoin="miter"/><path d="M807 557.1 L807 564.4" stroke="#111" stroke-width="1.6" fill="none" stroke-linecap="butt" stroke-linejoin="miter"/><path d="M807 539.4 L837 539.4" stroke="#111" stroke-width="1.5" fill="none" stroke-linecap="butt" stroke-linejoin="miter"/><path d="M807 560.1 L837 560.1" stroke="#111" stroke-width="1.5" fill="none" stroke-linecap="butt" stroke-linejoin="miter"/><path d="M808 549.8 L821.7 549.8 L821.7 560.1" stroke="#111" stroke-width="1.3" fill="none" stroke-linecap="butt" stroke-linejoin="miter"/><path d="M816.3 545.3 L808.5 549.8 L816.3 554.3" stroke="#111" stroke-width="1.3" fill="none" stroke-linecap="butt" stroke-linejoin="miter"/><path d="M776 559.6 L801 559.6" stroke="#111" stroke-width="1.5" fill="none" stroke-linecap="butt" stroke-linejoin="miter"/><path d="M837 560.1 L837 625.5" stroke="#111" stroke-width="1.5" fill="none" stroke-linecap="butt" stroke-linejoin="miter"/><path d="M867.9 519 L867.9 559.6 L892.5 559.6" stroke="#111" stroke-width="1.5" fill="none" stroke-linecap="butt" stroke-linejoin="miter"/><circle cx="902.5" cy="549.4" r="20" fill="none" stroke="#111" stroke-width="1.4"/><path d="M892.5 539.9 L892.5 559.6" stroke="#111" stroke-width="1.4" fill="none" stroke-linecap="butt" stroke-linejoin="miter"/><path d="M898.5 535.7 L898.5 542.4" stroke="#111" stroke-width="1.6" fill="none" stroke-linecap="butt" stroke-linejoin="miter"/><path d="M898.5 546.4 L898.5 553.7" stroke="#111" stroke-width="1.6" fill="none" stroke-linecap="butt" stroke-linejoin="miter"/><path d="M898.5 557.1 L898.5 564.4" stroke="#111" stroke-width="1.6" fill="none" stroke-linecap="butt" stroke-linejoin="miter"/><path d="M898.5 539.4 L928.5 539.4" stroke="#111" stroke-width="1.5" fill="none" stroke-linecap="butt" stroke-linejoin="miter"/><path d="M898.5 560.1 L928.5 560.1" stroke="#111" stroke-width="1.5" fill="none" stroke-linecap="butt" stroke-linejoin="miter"/><path d="M899.5 549.8 L913.2 549.8 L913.2 560.1" stroke="#111" stroke-width="1.3" fill="none" stroke-linecap="butt" stroke-linejoin="miter"/><path d="M907.8 545.3 L900 549.8 L907.8 554.3" stroke="#111" stroke-width="1.3" fill="none" stroke-linecap="butt" stroke-linejoin="miter"/><path d="M928.5 560.1 L929 625.5" stroke="#111" stroke-width="1.5" fill="none" stroke-linecap="butt" stroke-linejoin="miter"/><text transform="translate(671 589.52) scale(0.92 1)" text-anchor="middle" fill="#111" stroke="#111" stroke-width="0.3" style="font-family:&quot;Liberation Sans&quot;,sans-serif;font-size:14.56px;white-space:pre;">VT2</text><text transform="translate(670.5 605.02) scale(0.92 1)" text-anchor="middle" fill="#111" stroke="#111" stroke-width="0.3" style="font-family:&quot;Liberation Sans&quot;,sans-serif;font-size:14.56px;white-space:pre;">КП501А</text><text transform="translate(809 589.52) scale(0.92 1)" text-anchor="middle" fill="#111" stroke="#111" stroke-width="0.3" style="font-family:&quot;Liberation Sans&quot;,sans-serif;font-size:14.56px;white-space:pre;">VT3</text><text transform="translate(809 605.02) scale(0.92 1)" text-anchor="middle" fill="#111" stroke="#111" stroke-width="0.3" style="font-family:&quot;Liberation Sans&quot;,sans-serif;font-size:14.56px;white-space:pre;">КП505А</text><text transform="translate(896 589.02) scale(0.92 1)" text-anchor="middle" fill="#111" stroke="#111" stroke-width="0.3" style="font-family:&quot;Liberation Sans&quot;,sans-serif;font-size:14.56px;white-space:pre;">VT4</text><text transform="translate(896 605.52) scale(0.92 1)" text-anchor="middle" fill="#111" stroke="#111" stroke-width="0.3" style="font-family:&quot;Liberation Sans&quot;,sans-serif;font-size:14.56px;white-space:pre;">КП505А</text><path d="M104 625.5 L929 625.5" stroke="#111" stroke-width="1.5" fill="none" stroke-linecap="butt" stroke-linejoin="miter"/><circle cx="135" cy="625.5" r="2.1" fill="#111"/><circle cx="318" cy="625.5" r="2.1" fill="#111"/><circle cx="471" cy="625.5" r="2.1" fill="#111"/><circle cx="700" cy="625.5" r="2.1" fill="#111"/><circle cx="730" cy="625.5" r="2.1" fill="#111"/><circle cx="837" cy="625.5" r="2.1" fill="#111"/><path d="M730 625.5 L730 606" stroke="#111" stroke-width="1.5" fill="none" stroke-linecap="butt" stroke-linejoin="miter"/><path d="M723 599.5 L730 606 L737 599.5" stroke="#111" stroke-width="1.3" fill="none" stroke-linecap="butt" stroke-linejoin="miter"/><path d="M730 625.5 L730 645.5" stroke="#111" stroke-width="1.5" fill="none" stroke-linecap="butt" stroke-linejoin="miter"/><path d="M718.5 645.5 L741.5 645.5" stroke="#111" stroke-width="3.2" fill="none" stroke-linecap="butt" stroke-linejoin="miter"/><text transform="translate(730 591.02) scale(0.92 1)" text-anchor="middle" fill="#111" stroke="#111" stroke-width="0.3" style="font-family:&quot;Liberation Sans&quot;,sans-serif;font-size:14.56px;white-space:pre;">KT1</text><text x="833" y="647.34" text-anchor="start" fill="#111" stroke="#111" stroke-width="0.3" style="font-family:&quot;Liberation Sans&quot;,sans-serif;font-size:14.04px;white-space:pre;" textLength="92.7" lengthAdjust="spacingAndGlyphs">DD2   К561ТЛ1</text><text transform="translate(187.5 357.02) scale(0.92 1)" text-anchor="middle" fill="#111" stroke="#111" stroke-width="0.3" style="font-family:&quot;Liberation Sans&quot;,sans-serif;font-size:14.56px;white-space:pre;">DD1  К561ТМ2</text><path d="M12 366 L12 473" stroke="#111" stroke-width="1.5" fill="none" stroke-linecap="butt" stroke-linejoin="miter"/><rect x="7" y="391" width="10" height="26.4" fill="#fff" stroke="#111" stroke-width="1.4"/><path d="M9.4 405.1 L14.6 396.3" stroke="#111" stroke-width="1.1" fill="none" stroke-linecap="butt" stroke-linejoin="miter"/><path d="M9.4 412.1 L14.6 403.3" stroke="#111" stroke-width="1.1" fill="none" stroke-linecap="butt" stroke-linejoin="miter"/><circle cx="12" cy="442.5" r="2.1" fill="#111"/><text transform="translate(31 402.52) scale(0.92 1)" text-anchor="middle" fill="#111" stroke="#111" stroke-width="0.3" style="font-family:&quot;Liberation Sans&quot;,sans-serif;font-size:14.56px;white-space:pre;">R1</text><text transform="translate(30 418.02) scale(0.92 1)" text-anchor="middle" fill="#111" stroke="#111" stroke-width="0.3" style="font-family:&quot;Liberation Sans&quot;,sans-serif;font-size:14.56px;white-space:pre;">10k</text><path d="M12 442.5 L62 442.5" stroke="#111" stroke-width="1.5" fill="none" stroke-linecap="butt" stroke-linejoin="miter"/><path d="M87.5 442.5 L150 442.5" stroke="#111" stroke-width="1.5" fill="none" stroke-linecap="butt" stroke-linejoin="miter"/><circle cx="104" cy="442.5" r="2.1" fill="#111"/><path d="M62 442.5 L86 430" stroke="#111" stroke-width="1.4" fill="none" stroke-linecap="butt" stroke-linejoin="miter"/><path d="M61.5 418 L62.8 413.6 L84.6 413.6 L83.5 418" stroke="#111" stroke-width="1.4" fill="none" stroke-linecap="butt" stroke-linejoin="miter"/><path d="M70.5 414 L70.5 434" stroke="#111" stroke-width="1.2" fill="none" stroke-linecap="butt" stroke-linejoin="miter"/><path d="M74 414 L74 432" stroke="#111" stroke-width="1.2" fill="none" stroke-linecap="butt" stroke-linejoin="miter"/><text transform="translate(72.5 401.02) scale(0.92 1)" text-anchor="middle" fill="#111" stroke="#111" stroke-width="0.3" style="font-family:&quot;Liberation Sans&quot;,sans-serif;font-size:14.56px;white-space:pre;">SB1</text><text transform="translate(72.5 459.84) scale(0.92 1)" text-anchor="middle" fill="#111" stroke="#111" stroke-width="0.3" style="font-family:&quot;Liberation Sans&quot;,sans-serif;font-size:14.04px;white-space:pre;">"Пуск"</text><path d="M92 401 L116 401" stroke="#111" stroke-width="1.6" fill="none" stroke-linecap="butt" stroke-linejoin="miter"/><path d="M92 406 L116 406" stroke="#111" stroke-width="1.6" fill="none" stroke-linecap="butt" stroke-linejoin="miter"/><text transform="translate(146 390.52) scale(0.92 1)" text-anchor="middle" fill="#111" stroke="#111" stroke-width="0.3" style="font-family:&quot;Liberation Sans&quot;,sans-serif;font-size:14.56px;white-space:pre;">C10</text><text transform="translate(146 407.02) scale(0.92 1)" text-anchor="middle" fill="#111" stroke="#111" stroke-width="0.3" style="font-family:&quot;Liberation Sans&quot;,sans-serif;font-size:14.56px;white-space:pre;">0,33мк</text><path d="M12 473 L89 473 L89 502.5 L12 502.5" stroke="#111" stroke-width="1.5" fill="none" stroke-linecap="butt" stroke-linejoin="miter"/><path d="M12 549 L104 549" stroke="#111" stroke-width="1.5" fill="none" stroke-linecap="butt" stroke-linejoin="miter"/><circle cx="104" cy="549" r="2.1" fill="#111"/><path d="M6 495.5 L12.5 502.5 L6 509.5" stroke="#111" stroke-width="1.3" fill="none" stroke-linecap="butt" stroke-linejoin="miter"/><path d="M6 542 L12.5 549 L6 556" stroke="#111" stroke-width="1.3" fill="none" stroke-linecap="butt" stroke-linejoin="miter"/><path d="M28 504 L28 549" stroke="#111" stroke-width="1.3" fill="none" stroke-linecap="butt" stroke-linejoin="miter"/><path d="M30.8 504 L30.8 549" stroke="#111" stroke-width="1.3" fill="none" stroke-linecap="butt" stroke-linejoin="miter"/><text transform="translate(26.3 500.03) scale(1.08 1)" text-anchor="middle" fill="#c8262a" stroke="#c8262a" stroke-width="0" style="font-family:&quot;Liberation Sans&quot;,sans-serif;font-size:21.84px;white-space:pre;font-weight:bold;">X</text><text transform="translate(24.5 571.53) scale(1.08 1)" text-anchor="middle" fill="#c8262a" stroke="#c8262a" stroke-width="0" style="font-family:&quot;Liberation Sans&quot;,sans-serif;font-size:21.84px;white-space:pre;font-weight:bold;">Y</text><text transform="translate(20.5 517.16) scale(0.92 1)" text-anchor="middle" fill="#111" stroke="#111" stroke-width="0.3" style="font-family:&quot;Liberation Sans&quot;,sans-serif;font-size:13.52px;white-space:pre;">1</text><text transform="translate(20.5 544.66) scale(0.92 1)" text-anchor="middle" fill="#111" stroke="#111" stroke-width="0.3" style="font-family:&quot;Liberation Sans&quot;,sans-serif;font-size:13.52px;white-space:pre;">3</text><text x="59" y="524.56" text-anchor="start" fill="#c8262a" stroke="#c8262a" stroke-width="0" style="font-family:&quot;Liberation Sans&quot;,sans-serif;font-size:16.12px;white-space:pre;font-weight:bold;" textLength="23.5" lengthAdjust="spacingAndGlyphs">От</text><text x="46" y="539.56" text-anchor="start" fill="#c8262a" stroke="#c8262a" stroke-width="0" style="font-family:&quot;Liberation Sans&quot;,sans-serif;font-size:16.12px;white-space:pre;font-weight:bold;" textLength="53" lengthAdjust="spacingAndGlyphs">ДПКдС</text><rect x="99" y="575" width="10" height="27" fill="#fff" stroke="#111" stroke-width="1.4"/><path d="M101.4 589.4 L106.6 580.6" stroke="#111" stroke-width="1.1" fill="none" stroke-linecap="butt" stroke-linejoin="miter"/><path d="M101.4 596.4 L106.6 587.6" stroke="#111" stroke-width="1.1" fill="none" stroke-linecap="butt" stroke-linejoin="miter"/><text transform="translate(75 587.52) scale(0.92 1)" text-anchor="middle" fill="#111" stroke="#111" stroke-width="0.3" style="font-family:&quot;Liberation Sans&quot;,sans-serif;font-size:14.56px;white-space:pre;">R5</text><text transform="translate(75 601.02) scale(0.92 1)" text-anchor="middle" fill="#111" stroke="#111" stroke-width="0.3" style="font-family:&quot;Liberation Sans&quot;,sans-serif;font-size:14.56px;white-space:pre;">100k</text><rect x="149.9" y="427.4" width="61.3" height="75.9" fill="none" stroke="#111" stroke-width="1.5"/><path d="M176.3 427.4 L176.3 503.3" stroke="#111" stroke-width="1.5" fill="none" stroke-linecap="butt" stroke-linejoin="miter"/><path d="M149.9 449.2 L176.3 449.2" stroke="#111" stroke-width="1.5" fill="none" stroke-linecap="butt" stroke-linejoin="miter"/><path d="M149.9 481.3 L176.3 481.3" stroke="#111" stroke-width="1.5" fill="none" stroke-linecap="butt" stroke-linejoin="miter"/><text transform="translate(163.4 444.52) scale(0.92 1)" text-anchor="middle" fill="#111" stroke="#111" stroke-width="0.3" style="font-family:&quot;Liberation Sans&quot;,sans-serif;font-size:14.56px;white-space:pre;">S</text><text transform="translate(163.4 463.52) scale(0.92 1)" text-anchor="middle" fill="#111" stroke="#111" stroke-width="0.3" style="font-family:&quot;Liberation Sans&quot;,sans-serif;font-size:14.56px;white-space:pre;">D</text><text transform="translate(163.4 478.52) scale(0.92 1)" text-anchor="middle" fill="#111" stroke="#111" stroke-width="0.3" style="font-family:&quot;Liberation Sans&quot;,sans-serif;font-size:14.56px;white-space:pre;">C</text><text transform="translate(163.4 497.02) scale(0.92 1)" text-anchor="middle" fill="#111" stroke="#111" stroke-width="0.3" style="font-family:&quot;Liberation Sans&quot;,sans-serif;font-size:14.56px;white-space:pre;">R</text><text transform="translate(193 444.52) scale(0.92 1)" text-anchor="middle" fill="#111" stroke="#111" stroke-width="0.3" style="font-family:&quot;Liberation Sans&quot;,sans-serif;font-size:14.56px;white-space:pre;">TT</text><path d="M180.3 366 L180.3 427.4" stroke="#111" stroke-width="1.5" fill="none" stroke-linecap="butt" stroke-linejoin="miter"/><text transform="translate(190.5 424.32) scale(0.92 1)" text-anchor="middle" fill="#111" stroke="#111" stroke-width="0.3" style="font-family:&quot;Liberation Sans&quot;,sans-serif;font-size:14.56px;white-space:pre;">14</text><text transform="translate(220 407.52) scale(0.92 1)" text-anchor="middle" fill="#111" stroke="#111" stroke-width="0.3" style="font-family:&quot;Liberation Sans&quot;,sans-serif;font-size:14.56px;white-space:pre;">DD1.1</text><text transform="translate(142 438.52) scale(0.92 1)" text-anchor="middle" fill="#111" stroke="#111" stroke-width="0.3" style="font-family:&quot;Liberation Sans&quot;,sans-serif;font-size:14.56px;white-space:pre;">6</text><text transform="translate(142 456.32) scale(0.92 1)" text-anchor="middle" fill="#111" stroke="#111" stroke-width="0.3" style="font-family:&quot;Liberation Sans&quot;,sans-serif;font-size:14.56px;white-space:pre;">5</text><text transform="translate(142 470.92) scale(0.92 1)" text-anchor="middle" fill="#111" stroke="#111" stroke-width="0.3" style="font-family:&quot;Liberation Sans&quot;,sans-serif;font-size:14.56px;white-space:pre;">3</text><text transform="translate(142 487.02) scale(0.92 1)" text-anchor="middle" fill="#111" stroke="#111" stroke-width="0.3" style="font-family:&quot;Liberation Sans&quot;,sans-serif;font-size:14.56px;white-space:pre;">4</text><path d="M150 457.3 L134.5 457.3 L134.5 472.7" stroke="#111" stroke-width="1.5" fill="none" stroke-linecap="butt" stroke-linejoin="miter"/><path d="M118.6 472.7 L150 472.7" stroke="#111" stroke-width="1.5" fill="none" stroke-linecap="butt" stroke-linejoin="miter"/><circle cx="134.5" cy="472.7" r="2.1" fill="#111"/><path d="M118.6 461.5 L118.6 484.5" stroke="#111" stroke-width="3.2" fill="none" stroke-linecap="butt" stroke-linejoin="miter"/><path d="M150 488.1 L134.5 488.1 L134.5 625.5" stroke="#111" stroke-width="1.5" fill="none" stroke-linecap="butt" stroke-linejoin="miter"/><circle cx="134.5" cy="549" r="2.1" fill="#111"/><path d="M122.5 584 L146.5 584" stroke="#111" stroke-width="1.6" fill="none" stroke-linecap="butt" stroke-linejoin="miter"/><path d="M122.5 589 L146.5 589" stroke="#111" stroke-width="1.6" fill="none" stroke-linecap="butt" stroke-linejoin="miter"/><text transform="translate(126 580.31) scale(1 1)" text-anchor="middle" fill="#111" stroke="#111" stroke-width="0" style="font-family:&quot;Liberation Sans&quot;,sans-serif;font-size:12.48px;white-space:pre;font-weight:bold;">+</text><text transform="translate(162.5 591.02) scale(0.92 1)" text-anchor="middle" fill="#111" stroke="#111" stroke-width="0.3" style="font-family:&quot;Liberation Sans&quot;,sans-serif;font-size:14.56px;white-space:pre;">C11</text><text transform="translate(162.5 607.34) scale(0.92 1)" text-anchor="middle" fill="#111" stroke="#111" stroke-width="0.3" style="font-family:&quot;Liberation Sans&quot;,sans-serif;font-size:14.04px;white-space:pre;">10мк</text><text transform="translate(162.5 620.84) scale(0.92 1)" text-anchor="middle" fill="#111" stroke="#111" stroke-width="0.3" style="font-family:&quot;Liberation Sans&quot;,sans-serif;font-size:14.04px;white-space:pre;">x16B</text><path d="M180.5 503.3 L180.5 529.5" stroke="#111" stroke-width="1.5" fill="none" stroke-linecap="butt" stroke-linejoin="miter"/><path d="M169 529.5 L192 529.5" stroke="#111" stroke-width="3.2" fill="none" stroke-linecap="butt" stroke-linejoin="miter"/><text transform="translate(187 520.02) scale(0.92 1)" text-anchor="middle" fill="#111" stroke="#111" stroke-width="0.3" style="font-family:&quot;Liberation Sans&quot;,sans-serif;font-size:14.56px;white-space:pre;">7</text><path d="M134.5 549 L257 549" stroke="#111" stroke-width="1.5" fill="none" stroke-linecap="butt" stroke-linejoin="miter"/><circle cx="180.5" cy="549" r="2.1" fill="#111"/><circle cx="257" cy="549" r="2.1" fill="#111"/><path d="M212.5 542.5 L212.5 555.5 L225 549 L212.5 542.5" stroke="#111" stroke-width="1.4" fill="none" stroke-linecap="butt" stroke-linejoin="miter"/><path d="M225 542.5 L225 555.5" stroke="#111" stroke-width="1.5" fill="none" stroke-linecap="butt" stroke-linejoin="miter"/><path d="M180.5 549 L180.5 595.5 L257 595.5 L257 549" stroke="#111" stroke-width="1.5" fill="none" stroke-linecap="butt" stroke-linejoin="miter"/><rect x="205.5" y="591.2" width="26.5" height="9.2" fill="#fff" stroke="#111" stroke-width="1.4"/><path d="M209.75 593.4 L219.75 598.2" stroke="#111" stroke-width="1.1" fill="none" stroke-linecap="butt" stroke-linejoin="miter"/><path d="M217.75 593.4 L227.75 598.2" stroke="#111" stroke-width="1.1" fill="none" stroke-linecap="butt" stroke-linejoin="miter"/><text transform="translate(219 536.02) scale(0.92 1)" text-anchor="middle" fill="#111" stroke="#111" stroke-width="0.3" style="font-family:&quot;Liberation Sans&quot;,sans-serif;font-size:14.56px;white-space:pre;">VD2</text><text transform="translate(219 582.52) scale(0.92 1)" text-anchor="middle" fill="#111" stroke="#111" stroke-width="0.3" style="font-family:&quot;Liberation Sans&quot;,sans-serif;font-size:14.56px;white-space:pre;">R6  2M</text><text transform="translate(219 619.38) scale(1 1)" text-anchor="middle" fill="#1f1f9e" stroke="#1f1f9e" stroke-width="0" style="font-family:&quot;Liberation Sans&quot;,sans-serif;font-size:15.6px;white-space:pre;font-weight:bold;">OB №1</text><path d="M211.2 442.8 L257 442.8" stroke="#111" stroke-width="1.5" fill="none" stroke-linecap="butt" stroke-linejoin="miter"/><path d="M234.8 439.6 L241.2 446" stroke="#111" stroke-width="1.2" fill="none" stroke-linecap="butt" stroke-linejoin="miter"/><path d="M234.8 446 L241.2 439.6" stroke="#111" stroke-width="1.2" fill="none" stroke-linecap="butt" stroke-linejoin="miter"/><circle cx="257" cy="442.8" r="2.1" fill="#111"/><path d="M257 396.7 L257 549" stroke="#111" stroke-width="1.5" fill="none" stroke-linecap="butt" stroke-linejoin="miter"/><text transform="translate(219.7 439.22) scale(0.92 1)" text-anchor="middle" fill="#111" stroke="#111" stroke-width="0.3" style="font-family:&quot;Liberation Sans&quot;,sans-serif;font-size:14.56px;white-space:pre;">1</text><path d="M224 432 L229.5 432 L229.5 419 L248.5 419 L248.5 432 L254 432" stroke="#c0393c" stroke-width="1.6" fill="none" stroke-linecap="butt" stroke-linejoin="miter"/><path d="M285.3 393.5 L291.7 399.9" stroke="#111" stroke-width="1.2" fill="none" stroke-linecap="butt" stroke-linejoin="miter"/><path d="M285.3 399.9 L291.7 393.5" stroke="#111" stroke-width="1.2" fill="none" stroke-linecap="butt" stroke-linejoin="miter"/><path d="M265.5 389 L273 389 L273 373.7 L304.5 373.7 L304.5 389 L315.2 389" stroke="#c0393c" stroke-width="1.6" fill="none" stroke-linecap="butt" stroke-linejoin="miter"/><text transform="translate(289.7 387.82) scale(0.92 1)" text-anchor="middle" fill="#111" stroke="#111" stroke-width="0.3" style="font-family:&quot;Liberation Sans&quot;,sans-serif;font-size:14.56px;white-space:pre;">20c</text><circle cx="211" cy="488.1" r="2.9" fill="#fff" stroke="#111" stroke-width="1.3"/><path d="M214 488.1 L285.6 488.1" stroke="#111" stroke-width="1.5" fill="none" stroke-linecap="butt" stroke-linejoin="miter"/><path d="M289 488.1 L318 488.1" stroke="#111" stroke-width="1.5" fill="none" stroke-linecap="butt" stroke-linejoin="miter"/><path d="M234.3 484.9 L240.7 491.3" stroke="#111" stroke-width="1.2" fill="none" stroke-linecap="butt" stroke-linejoin="miter"/><path d="M234.3 491.3 L240.7 484.9" stroke="#111" stroke-width="1.2" fill="none" stroke-linecap="butt" stroke-linejoin="miter"/><path d="M265.3 484.9 L271.7 491.3" stroke="#111" stroke-width="1.2" fill="none" stroke-linecap="butt" stroke-linejoin="miter"/><path d="M265.3 491.3 L271.7 484.9" stroke="#111" stroke-width="1.2" fill="none" stroke-linecap="butt" stroke-linejoin="miter"/><path d="M285.6 476.1 L285.6 500.1" stroke="#111" stroke-width="1.6" fill="none" stroke-linecap="butt" stroke-linejoin="miter"/><path d="M289.2 476.1 L289.2 500.1" stroke="#111" stroke-width="1.6" fill="none" stroke-linecap="butt" stroke-linejoin="miter"/><text transform="translate(220.4 482.02) scale(0.92 1)" text-anchor="middle" fill="#111" stroke="#111" stroke-width="0.3" style="font-family:&quot;Liberation Sans&quot;,sans-serif;font-size:14.56px;white-space:pre;">2</text><path d="M222.5 500 L229 500 L229 512.5 L247 512.5 L247 500 L252.5 500" stroke="#c0393c" stroke-width="1.6" fill="none" stroke-linecap="butt" stroke-linejoin="miter"/><path d="M264 514 L269.5 514 L269.5 499 L276 499" stroke="#c8262a" stroke-width="1.6" fill="none" stroke-linecap="butt" stroke-linejoin="miter"/><path d="M269.5 512 L269.5 506.5" stroke="#c8262a" stroke-width="1.6" fill="none" stroke-linecap="butt" stroke-linejoin="miter"/><path d="M269.5 500 L272.1 506.5 L266.9 506.5 Z" fill="#c8262a"/><text transform="translate(287.4 441.82) scale(0.92 1)" text-anchor="middle" fill="#111" stroke="#111" stroke-width="0.3" style="font-family:&quot;Liberation Sans&quot;,sans-serif;font-size:14.56px;white-space:pre;">C12</text><text transform="translate(287.4 457.82) scale(0.92 1)" text-anchor="middle" fill="#111" stroke="#111" stroke-width="0.3" style="font-family:&quot;Liberation Sans&quot;,sans-serif;font-size:14.56px;white-space:pre;">0,022</text><text transform="translate(287.4 470.31) scale(0.92 1)" text-anchor="middle" fill="#111" stroke="#111" stroke-width="0.3" style="font-family:&quot;Liberation Sans&quot;,sans-serif;font-size:12.48px;white-space:pre;">мк</text><circle cx="318" cy="488.1" r="2.1" fill="#111"/><path d="M318 625.5 L318 474 L409.4 474" stroke="#111" stroke-width="1.5" fill="none" stroke-linecap="butt" stroke-linejoin="miter"/><rect x="313" y="535" width="10" height="26" fill="#fff" stroke="#111" stroke-width="1.4"/><path d="M315.4 548.9 L320.6 540.1" stroke="#111" stroke-width="1.1" fill="none" stroke-linecap="butt" stroke-linejoin="miter"/><path d="M315.4 555.9 L320.6 547.1" stroke="#111" stroke-width="1.1" fill="none" stroke-linecap="butt" stroke-linejoin="miter"/><text transform="translate(295 546.02) scale(0.92 1)" text-anchor="middle" fill="#111" stroke="#111" stroke-width="0.3" style="font-family:&quot;Liberation Sans&quot;,sans-serif;font-size:14.56px;white-space:pre;">R7</text><text transform="translate(295 561.02) scale(0.92 1)" text-anchor="middle" fill="#111" stroke="#111" stroke-width="0.3" style="font-family:&quot;Liberation Sans&quot;,sans-serif;font-size:14.56px;white-space:pre;">100k</text><path d="M329.8 470.8 L336.2 477.2" stroke="#111" stroke-width="1.2" fill="none" stroke-linecap="butt" stroke-linejoin="miter"/><path d="M329.8 477.2 L336.2 470.8" stroke="#111" stroke-width="1.2" fill="none" stroke-linecap="butt" stroke-linejoin="miter"/><path d="M327.7 465.3 L330.6 465.3 L331.2 452.5 Q332.3 462.5 337.3 465.3 L338.6 465.3" stroke="#c8262a" stroke-width="1.5" fill="none"/><rect x="409.4" y="427" width="61.3" height="76" fill="none" stroke="#111" stroke-width="1.5"/><path d="M435.8 427 L435.8 503" stroke="#111" stroke-width="1.5" fill="none" stroke-linecap="butt" stroke-linejoin="miter"/><path d="M409.4 450 L435.8 450" stroke="#111" stroke-width="1.5" fill="none" stroke-linecap="butt" stroke-linejoin="miter"/><path d="M409.4 481 L435.8 481" stroke="#111" stroke-width="1.5" fill="none" stroke-linecap="butt" stroke-linejoin="miter"/><text transform="translate(422.4 443.82) scale(0.92 1)" text-anchor="middle" fill="#111" stroke="#111" stroke-width="0.3" style="font-family:&quot;Liberation Sans&quot;,sans-serif;font-size:14.56px;white-space:pre;">S</text><text transform="translate(422.4 463.52) scale(0.92 1)" text-anchor="middle" fill="#111" stroke="#111" stroke-width="0.3" style="font-family:&quot;Liberation Sans&quot;,sans-serif;font-size:14.56px;white-space:pre;">D</text><text transform="translate(422.4 478.52) scale(0.92 1)" text-anchor="middle" fill="#111" stroke="#111" stroke-width="0.3" style="font-family:&quot;Liberation Sans&quot;,sans-serif;font-size:14.56px;white-space:pre;">C</text><text transform="translate(422.4 497.02) scale(0.92 1)" text-anchor="middle" fill="#111" stroke="#111" stroke-width="0.3" style="font-family:&quot;Liberation Sans&quot;,sans-serif;font-size:14.56px;white-space:pre;">R</text><text transform="translate(452.5 443.82) scale(0.92 1)" text-anchor="middle" fill="#111" stroke="#111" stroke-width="0.3" style="font-family:&quot;Liberation Sans&quot;,sans-serif;font-size:14.56px;white-space:pre;">TT</text><text transform="translate(440.5 420.42) scale(0.92 1)" text-anchor="middle" fill="#111" stroke="#111" stroke-width="0.3" style="font-family:&quot;Liberation Sans&quot;,sans-serif;font-size:14.56px;white-space:pre;">DD1.2</text><path d="M364.9 430.7 L364.9 453.5" stroke="#111" stroke-width="3.2" fill="none" stroke-linecap="butt" stroke-linejoin="miter"/><path d="M364.9 442.6 L409.4 442.6" stroke="#111" stroke-width="1.5" fill="none" stroke-linecap="butt" stroke-linejoin="miter"/><path d="M379.5 366 L379.5 457.3 L409.4 457.3" stroke="#111" stroke-width="1.5" fill="none" stroke-linecap="butt" stroke-linejoin="miter"/><path d="M409.4 488.1 L379.5 488.1 L379.5 595" stroke="#111" stroke-width="1.5" fill="none" stroke-linecap="butt" stroke-linejoin="miter"/><text transform="translate(396.8 438.02) scale(0.92 1)" text-anchor="middle" fill="#111" stroke="#111" stroke-width="0.3" style="font-family:&quot;Liberation Sans&quot;,sans-serif;font-size:14.56px;white-space:pre;">8</text><text transform="translate(396.8 455.52) scale(0.92 1)" text-anchor="middle" fill="#111" stroke="#111" stroke-width="0.3" style="font-family:&quot;Liberation Sans&quot;,sans-serif;font-size:14.56px;white-space:pre;">9</text><text transform="translate(396.8 470.02) scale(0.92 1)" text-anchor="middle" fill="#111" stroke="#111" stroke-width="0.3" style="font-family:&quot;Liberation Sans&quot;,sans-serif;font-size:14.56px;white-space:pre;">11</text><text transform="translate(396.8 486.32) scale(0.92 1)" text-anchor="middle" fill="#111" stroke="#111" stroke-width="0.3" style="font-family:&quot;Liberation Sans&quot;,sans-serif;font-size:14.56px;white-space:pre;">10</text><path d="M470.7 442.6 L592.5 442.6" stroke="#111" stroke-width="1.5" fill="none" stroke-linecap="butt" stroke-linejoin="miter"/><circle cx="516" cy="442.6" r="2.1" fill="#111"/><path d="M549.8 439.4 L556.2 445.8" stroke="#111" stroke-width="1.2" fill="none" stroke-linecap="butt" stroke-linejoin="miter"/><path d="M549.8 445.8 L556.2 439.4" stroke="#111" stroke-width="1.2" fill="none" stroke-linecap="butt" stroke-linejoin="miter"/><text transform="translate(484 439.02) scale(0.92 1)" text-anchor="middle" fill="#111" stroke="#111" stroke-width="0.3" style="font-family:&quot;Liberation Sans&quot;,sans-serif;font-size:14.56px;white-space:pre;">13</text><path d="M527.5 432 L537 432 L537 417 L567.5 417 L567.5 432 L576 432" stroke="#c0393c" stroke-width="1.6" fill="none" stroke-linecap="butt" stroke-linejoin="miter"/><text transform="translate(552.5 431.52) scale(0.92 1)" text-anchor="middle" fill="#111" stroke="#111" stroke-width="0.3" style="font-family:&quot;Liberation Sans&quot;,sans-serif;font-size:14.56px;white-space:pre;">60c</text><circle cx="470.7" cy="488.1" r="2.9" fill="#fff" stroke="#111" stroke-width="1.3"/><text transform="translate(485 485.02) scale(0.92 1)" text-anchor="middle" fill="#111" stroke="#111" stroke-width="0.3" style="font-family:&quot;Liberation Sans&quot;,sans-serif;font-size:14.56px;white-space:pre;">12</text><path d="M516 442.6 L516 549.5" stroke="#111" stroke-width="1.5" fill="none" stroke-linecap="butt" stroke-linejoin="miter"/><path d="M509 471 L523 471 L516 459 L509 471" stroke="#111" stroke-width="1.4" fill="none" stroke-linecap="butt" stroke-linejoin="miter"/><path d="M509 459 L523 459" stroke="#111" stroke-width="1.5" fill="none" stroke-linecap="butt" stroke-linejoin="miter"/><text transform="translate(552.5 465.02) scale(0.92 1)" text-anchor="middle" fill="#111" stroke="#111" stroke-width="0.3" style="font-family:&quot;Liberation Sans&quot;,sans-serif;font-size:14.56px;white-space:pre;">VD5</text><text transform="translate(552.5 480.02) scale(0.92 1)" text-anchor="middle" fill="#111" stroke="#111" stroke-width="0.3" style="font-family:&quot;Liberation Sans&quot;,sans-serif;font-size:14.56px;white-space:pre;">КД522Б</text><path d="M592.5 442.6 L592.5 579.5 L555 579.5 L555 556" stroke="#111" stroke-width="1.5" fill="none" stroke-linecap="butt" stroke-linejoin="miter"/><rect x="587.5" y="505" width="10" height="27" fill="#fff" stroke="#111" stroke-width="1.4"/><path d="M589.9 519.4 L595.1 510.6" stroke="#111" stroke-width="1.1" fill="none" stroke-linecap="butt" stroke-linejoin="miter"/><path d="M589.9 526.4 L595.1 517.6" stroke="#111" stroke-width="1.1" fill="none" stroke-linecap="butt" stroke-linejoin="miter"/><path d="M551.5 562 L555 555 L558.5 562" stroke="#111" stroke-width="1.3" fill="none" stroke-linecap="butt" stroke-linejoin="miter"/><circle cx="592.5" cy="549.5" r="2.1" fill="#111"/><text transform="translate(606 465.02) scale(0.92 1)" text-anchor="middle" fill="#111" stroke="#111" stroke-width="0.3" style="font-family:&quot;Liberation Sans&quot;,sans-serif;font-size:14.56px;white-space:pre;">R9</text><text transform="translate(606 480.02) scale(0.92 1)" text-anchor="middle" fill="#111" stroke="#111" stroke-width="0.3" style="font-family:&quot;Liberation Sans&quot;,sans-serif;font-size:14.56px;white-space:pre;">18k</text><path d="M598 497.5 L611 486" stroke="#111" stroke-width="1" fill="none" stroke-linecap="butt" stroke-linejoin="miter"/><path d="M531 496 L538 496 L538 510.5 L571.5 510.5 L571.5 496 L580 496" stroke="#c0393c" stroke-width="1.6" fill="none" stroke-linecap="butt" stroke-linejoin="miter"/><text transform="translate(555 507.52) scale(0.92 1)" text-anchor="middle" fill="#111" stroke="#111" stroke-width="0.3" style="font-family:&quot;Liberation Sans&quot;,sans-serif;font-size:14.56px;white-space:pre;">60c</text><text transform="translate(555 526.02) scale(0.92 1)" text-anchor="middle" fill="#111" stroke="#111" stroke-width="0.3" style="font-family:&quot;Liberation Sans&quot;,sans-serif;font-size:14.56px;white-space:pre;">RP2</text><text transform="translate(555 539.02) scale(0.92 1)" text-anchor="middle" fill="#111" stroke="#111" stroke-width="0.3" style="font-family:&quot;Liberation Sans&quot;,sans-serif;font-size:14.56px;white-space:pre;">"Время"</text><rect x="541" y="544.5" width="27" height="9.5" fill="#fff" stroke="#111" stroke-width="1.5"/><text transform="translate(574 576.02) scale(0.92 1)" text-anchor="middle" fill="#111" stroke="#111" stroke-width="0.3" style="font-family:&quot;Liberation Sans&quot;,sans-serif;font-size:14.56px;white-space:pre;">330k</text><path d="M379.5 549.5 L541 549.5" stroke="#111" stroke-width="1.5" fill="none" stroke-linecap="butt" stroke-linejoin="miter"/><path d="M568 549.5 L592.5 549.5" stroke="#111" stroke-width="1.5" fill="none" stroke-linecap="butt" stroke-linejoin="miter"/><path d="M431 543 L431 556 L419 549.5 L431 543" stroke="#111" stroke-width="1.4" fill="none" stroke-linecap="butt" stroke-linejoin="miter"/><path d="M419 543 L419 556" stroke="#111" stroke-width="1.5" fill="none" stroke-linecap="butt" stroke-linejoin="miter"/><circle cx="379.5" cy="549.5" r="2.1" fill="#111"/><circle cx="471" cy="549.5" r="2.1" fill="#111"/><circle cx="516" cy="549.5" r="2.1" fill="#111"/><path d="M372.5 579 L386.5 579 L379.5 565 L372.5 579" stroke="#111" stroke-width="1.4" fill="none" stroke-linecap="butt" stroke-linejoin="miter"/><path d="M372.5 565 L386.5 565" stroke="#111" stroke-width="1.5" fill="none" stroke-linecap="butt" stroke-linejoin="miter"/><text transform="translate(411 521.02) scale(0.92 1)" text-anchor="middle" fill="#111" stroke="#111" stroke-width="0.3" style="font-family:&quot;Liberation Sans&quot;,sans-serif;font-size:14.56px;white-space:pre;">VD3</text><text transform="translate(411 536.02) scale(0.92 1)" text-anchor="middle" fill="#111" stroke="#111" stroke-width="0.3" style="font-family:&quot;Liberation Sans&quot;,sans-serif;font-size:14.56px;white-space:pre;">КД522Б</text><path d="M385 561 L405 540" stroke="#111" stroke-width="1" fill="none" stroke-linecap="butt" stroke-linejoin="miter"/><text transform="translate(469 521.02) scale(0.92 1)" text-anchor="middle" fill="#111" stroke="#111" stroke-width="0.3" style="font-family:&quot;Liberation Sans&quot;,sans-serif;font-size:14.56px;white-space:pre;">VD4</text><text transform="translate(469 536.02) scale(0.92 1)" text-anchor="middle" fill="#111" stroke="#111" stroke-width="0.3" style="font-family:&quot;Liberation Sans&quot;,sans-serif;font-size:14.56px;white-space:pre;">КД522Б</text><path d="M436 546 L445 540" stroke="#111" stroke-width="1" fill="none" stroke-linecap="butt" stroke-linejoin="miter"/><path d="M349 366 L349 547" stroke="#111" stroke-width="1.5" fill="none" stroke-linecap="butt" stroke-linejoin="miter"/><path d="M336.5 547 L361.5 547" stroke="#111" stroke-width="1.6" fill="none" stroke-linecap="butt" stroke-linejoin="miter"/><path d="M336.5 552.5 L361.5 552.5" stroke="#111" stroke-width="1.6" fill="none" stroke-linecap="butt" stroke-linejoin="miter"/><path d="M349 552.5 L349 595 L412 595" stroke="#111" stroke-width="1.5" fill="none" stroke-linecap="butt" stroke-linejoin="miter"/><rect x="412" y="590.4" width="27" height="9.2" fill="#fff" stroke="#111" stroke-width="1.4"/><path d="M416.5 592.6 L426.5 597.4" stroke="#111" stroke-width="1.1" fill="none" stroke-linecap="butt" stroke-linejoin="miter"/><path d="M424.5 592.6 L434.5 597.4" stroke="#111" stroke-width="1.1" fill="none" stroke-linecap="butt" stroke-linejoin="miter"/><path d="M439 595 L471 595" stroke="#111" stroke-width="1.5" fill="none" stroke-linecap="butt" stroke-linejoin="miter"/><circle cx="379.5" cy="595" r="2.1" fill="#111"/><circle cx="471" cy="595" r="2.1" fill="#111"/><text transform="translate(364 535.02) scale(0.92 1)" text-anchor="middle" fill="#111" stroke="#111" stroke-width="0.3" style="font-family:&quot;Liberation Sans&quot;,sans-serif;font-size:14.56px;white-space:pre;">C13</text><text transform="translate(425 571.02) scale(0.92 1)" text-anchor="middle" fill="#111" stroke="#111" stroke-width="0.3" style="font-family:&quot;Liberation Sans&quot;,sans-serif;font-size:14.56px;white-space:pre;">R8</text><text transform="translate(425 585.02) scale(0.92 1)" text-anchor="middle" fill="#111" stroke="#111" stroke-width="0.3" style="font-family:&quot;Liberation Sans&quot;,sans-serif;font-size:14.56px;white-space:pre;">100k</text><path d="M471 549.5 L471 571" stroke="#111" stroke-width="1.5" fill="none" stroke-linecap="butt" stroke-linejoin="miter"/><path d="M459 571 L483 571" stroke="#111" stroke-width="1.6" fill="none" stroke-linecap="butt" stroke-linejoin="miter"/><path d="M459 575.5 L483 575.5" stroke="#111" stroke-width="1.6" fill="none" stroke-linecap="butt" stroke-linejoin="miter"/><path d="M471 575.5 L471 645" stroke="#111" stroke-width="1.5" fill="none" stroke-linecap="butt" stroke-linejoin="miter"/><path d="M459.5 645 L482.5 645" stroke="#111" stroke-width="3.2" fill="none" stroke-linecap="butt" stroke-linejoin="miter"/><text transform="translate(455 570.31) scale(0.92 1)" text-anchor="middle" fill="#111" stroke="#111" stroke-width="0.3" style="font-family:&quot;Liberation Sans&quot;,sans-serif;font-size:12.48px;white-space:pre;">+</text><text transform="translate(504 564.02) scale(0.92 1)" text-anchor="middle" fill="#111" stroke="#111" stroke-width="0.3" style="font-family:&quot;Liberation Sans&quot;,sans-serif;font-size:14.56px;white-space:pre;">C14</text><text transform="translate(507 579.02) scale(0.92 1)" text-anchor="middle" fill="#111" stroke="#111" stroke-width="0.3" style="font-family:&quot;Liberation Sans&quot;,sans-serif;font-size:14.56px;white-space:pre;">220мк</text><text transform="translate(503 592.02) scale(0.92 1)" text-anchor="middle" fill="#111" stroke="#111" stroke-width="0.3" style="font-family:&quot;Liberation Sans&quot;,sans-serif;font-size:14.56px;white-space:pre;">x16B</text><text x="339" y="619.52" text-anchor="start" fill="#111" stroke="#111" stroke-width="0.3" style="font-family:&quot;Liberation Sans&quot;,sans-serif;font-size:14.56px;white-space:pre;" textLength="80.5" lengthAdjust="spacingAndGlyphs">C13   0,22 мк</text><text x="535" y="617.88" text-anchor="start" fill="#1f1f9e" stroke="#1f1f9e" stroke-width="0" style="font-family:&quot;Liberation Sans&quot;,sans-serif;font-size:15.6px;white-space:pre;font-weight:bold;" textLength="55" lengthAdjust="spacingAndGlyphs">OB №2</text><rect x="1016.5" y="351.3" width="129" height="213.1" fill="none" stroke="#555" stroke-width="1.2"/><text x="1032.7" y="366.02" text-anchor="start" fill="#111" stroke="#111" stroke-width="0.3" style="font-family:&quot;Liberation Sans&quot;,sans-serif;font-size:14.56px;white-space:pre;" textLength="105.8" lengthAdjust="spacingAndGlyphs">DA1    1158ЕН3А</text><path d="M1023.5 368.3 L1141.7 368.3" stroke="#111" stroke-width="1.4" fill="none" stroke-linecap="butt" stroke-linejoin="miter"/><path d="M1023.5 371.9 L1141.7 371.9" stroke="#111" stroke-width="1.4" fill="none" stroke-linecap="butt" stroke-linejoin="miter"/><rect x="1059.3" y="378" width="44.4" height="44" fill="none" stroke="#111" stroke-width="1.5"/><path d="M1068.7 395.6 L1068.7 404.8" stroke="#111" stroke-width="1.9" fill="none" stroke-linecap="butt" stroke-linejoin="miter"/><path d="M1072.68 397.9 L1064.72 402.5" stroke="#111" stroke-width="1.9" fill="none" stroke-linecap="butt" stroke-linejoin="miter"/><path d="M1072.68 402.5 L1064.72 397.9" stroke="#111" stroke-width="1.9" fill="none" stroke-linecap="butt" stroke-linejoin="miter"/><text x="1075" y="407.2" text-anchor="start" fill="#111" stroke="#111" stroke-width="0.3" style="font-family:&quot;Liberation Serif&quot;,sans-serif;font-size:20.28px;white-space:pre;font-style:italic;" textLength="21.9" lengthAdjust="spacingAndGlyphs">ST</text><path d="M1023.5 399.5 L1059.3 399.5" stroke="#111" stroke-width="1.5" fill="none" stroke-linecap="butt" stroke-linejoin="miter"/><path d="M1103.7 399.5 L1139.3 399.5" stroke="#111" stroke-width="1.5" fill="none" stroke-linecap="butt" stroke-linejoin="miter"/><path d="M1034.8 396.3 L1041.2 402.7" stroke="#111" stroke-width="1.2" fill="none" stroke-linecap="butt" stroke-linejoin="miter"/><path d="M1034.8 402.7 L1041.2 396.3" stroke="#111" stroke-width="1.2" fill="none" stroke-linecap="butt" stroke-linejoin="miter"/><path d="M1121.5 396.3 L1127.9 402.7" stroke="#111" stroke-width="1.2" fill="none" stroke-linecap="butt" stroke-linejoin="miter"/><path d="M1121.5 402.7 L1127.9 396.3" stroke="#111" stroke-width="1.2" fill="none" stroke-linecap="butt" stroke-linejoin="miter"/><text transform="translate(1048.4 395.52) scale(0.92 1)" text-anchor="middle" fill="#111" stroke="#111" stroke-width="0.3" style="font-family:&quot;Liberation Sans&quot;,sans-serif;font-size:14.56px;white-space:pre;">1</text><text transform="translate(1111.4 395.52) scale(0.92 1)" text-anchor="middle" fill="#111" stroke="#111" stroke-width="0.3" style="font-family:&quot;Liberation Sans&quot;,sans-serif;font-size:14.56px;white-space:pre;">3</text><text transform="translate(1024 417.32) scale(0.92 1)" text-anchor="start" fill="#111" stroke="#111" stroke-width="0.3" style="font-family:&quot;Liberation Sans&quot;,sans-serif;font-size:14.56px;white-space:pre;">+U</text><text transform="translate(1043 419.13) scale(0.92 1)" text-anchor="start" fill="#111" stroke="#111" stroke-width="0.3" style="font-family:&quot;Liberation Sans&quot;,sans-serif;font-size:11.96px;white-space:pre;">вх.</text><text transform="translate(1107.8 417.32) scale(0.92 1)" text-anchor="start" fill="#111" stroke="#111" stroke-width="0.3" style="font-family:&quot;Liberation Sans&quot;,sans-serif;font-size:14.56px;white-space:pre;">U</text><text transform="translate(1117.5 419.13) scale(0.92 1)" text-anchor="start" fill="#111" stroke="#111" stroke-width="0.3" style="font-family:&quot;Liberation Sans&quot;,sans-serif;font-size:11.96px;white-space:pre;">вых.</text><path d="M1081 422 L1081 445" stroke="#111" stroke-width="1.5" fill="none" stroke-linecap="butt" stroke-linejoin="miter"/><path d="M1069.5 445 L1092.5 445" stroke="#111" stroke-width="3.2" fill="none" stroke-linecap="butt" stroke-linejoin="miter"/><text transform="translate(1088.4 437.22) scale(0.92 1)" text-anchor="middle" fill="#111" stroke="#111" stroke-width="0.3" style="font-family:&quot;Liberation Sans&quot;,sans-serif;font-size:14.56px;white-space:pre;">2</text><text x="1021.3" y="436.72" text-anchor="start" fill="#111" stroke="#111" stroke-width="0.3" style="font-family:&quot;Liberation Sans&quot;,sans-serif;font-size:14.56px;white-space:pre;" textLength="50.9" lengthAdjust="spacingAndGlyphs">+4...12B</text><text transform="translate(1123.5 436.72) scale(0.92 1)" text-anchor="middle" fill="#111" stroke="#111" stroke-width="0.3" style="font-family:&quot;Liberation Sans&quot;,sans-serif;font-size:14.56px;white-space:pre;">+3B</text><text transform="translate(1058 462.84) scale(0.92 1)" text-anchor="middle" fill="#111" stroke="#111" stroke-width="0.3" style="font-family:&quot;Liberation Sans&quot;,sans-serif;font-size:14.04px;white-space:pre;">Iпотр.=</text><text x="1024" y="478.84" text-anchor="start" fill="#111" stroke="#111" stroke-width="0.3" style="font-family:&quot;Liberation Sans&quot;,sans-serif;font-size:14.04px;white-space:pre;" textLength="70.5" lengthAdjust="spacingAndGlyphs">=1,5...2мА;</text><path d="M1111.3 450 L1111.3 444 L1117.5 444 L1117.5 447.5 L1128.5 447.5 L1128.5 444 L1134.4 444 L1134.4 450" stroke="#111" stroke-width="1.4" fill="none" stroke-linecap="butt" stroke-linejoin="miter"/><rect x="1107.8" y="450" width="30.2" height="26.5" fill="#fff" stroke="#111" stroke-width="1.5"/><text transform="translate(1123 460.77) scale(0.92 1)" text-anchor="middle" fill="#111" stroke="#111" stroke-width="0.3" style="font-family:&quot;Liberation Sans&quot;,sans-serif;font-size:10.92px;white-space:pre;">1158</text><text transform="translate(1123 473.27) scale(0.92 1)" text-anchor="middle" fill="#111" stroke="#111" stroke-width="0.3" style="font-family:&quot;Liberation Sans&quot;,sans-serif;font-size:10.92px;white-space:pre;">ЕН3А</text><rect x="1111.4" y="476.5" width="3.2" height="32.5" fill="none" stroke="#111" stroke-width="1.1"/><text transform="translate(1113 523.66) scale(0.92 1)" text-anchor="middle" fill="#111" stroke="#111" stroke-width="0.3" style="font-family:&quot;Liberation Sans&quot;,sans-serif;font-size:13.52px;white-space:pre;">1</text><rect x="1121" y="476.5" width="3.2" height="32.5" fill="none" stroke="#111" stroke-width="1.1"/><text transform="translate(1122.6 523.66) scale(0.92 1)" text-anchor="middle" fill="#111" stroke="#111" stroke-width="0.3" style="font-family:&quot;Liberation Sans&quot;,sans-serif;font-size:13.52px;white-space:pre;">2</text><rect x="1130.9" y="476.5" width="3.2" height="32.5" fill="none" stroke="#111" stroke-width="1.1"/><text transform="translate(1132.5 523.66) scale(0.92 1)" text-anchor="middle" fill="#111" stroke="#111" stroke-width="0.3" style="font-family:&quot;Liberation Sans&quot;,sans-serif;font-size:13.52px;white-space:pre;">3</text><text transform="translate(1024.3 504.02) scale(0.92 1)" text-anchor="start" fill="#111" stroke="#111" stroke-width="0.3" style="font-family:&quot;Liberation Sans&quot;,sans-serif;font-size:14.56px;white-space:pre;">U</text><text transform="translate(1034 505.63) scale(0.92 1)" text-anchor="start" fill="#111" stroke="#111" stroke-width="0.3" style="font-family:&quot;Liberation Sans&quot;,sans-serif;font-size:11.96px;white-space:pre;">вх.</text><text transform="translate(1051 504.02) scale(0.92 1)" text-anchor="start" fill="#111" stroke="#111" stroke-width="0.3" style="font-family:&quot;Liberation Sans&quot;,sans-serif;font-size:14.56px;white-space:pre;">–U</text><text transform="translate(1069 505.63) scale(0.92 1)" text-anchor="start" fill="#111" stroke="#111" stroke-width="0.3" style="font-family:&quot;Liberation Sans&quot;,sans-serif;font-size:11.96px;white-space:pre;">вых.</text><text transform="translate(1091 500.95) scale(0.92 1)" text-anchor="start" fill="#111" stroke="#111" stroke-width="0.3" style="font-family:&quot;Liberation Sans&quot;,sans-serif;font-size:11.44px;white-space:pre;">≥</text><text x="1037" y="521.84" text-anchor="start" fill="#111" stroke="#111" stroke-width="0.3" style="font-family:&quot;Liberation Sans&quot;,sans-serif;font-size:14.04px;white-space:pre;" textLength="42" lengthAdjust="spacingAndGlyphs">≥0,6B;</text><text transform="translate(1024.3 541.72) scale(0.92 1)" text-anchor="start" fill="#111" stroke="#111" stroke-width="0.3" style="font-family:&quot;Liberation Sans&quot;,sans-serif;font-size:14.56px;white-space:pre;">U</text><text transform="translate(1034 543.33) scale(0.92 1)" text-anchor="start" fill="#111" stroke="#111" stroke-width="0.3" style="font-family:&quot;Liberation Sans&quot;,sans-serif;font-size:11.96px;white-space:pre;">вх.</text><text x="1058" y="541.72" text-anchor="start" fill="#111" stroke="#111" stroke-width="0.3" style="font-family:&quot;Liberation Sans&quot;,sans-serif;font-size:14.56px;white-space:pre;" textLength="63.8" lengthAdjust="spacingAndGlyphs">=+4...12B;</text><text transform="translate(1024.3 559.32) scale(0.92 1)" text-anchor="start" fill="#111" stroke="#111" stroke-width="0.3" style="font-family:&quot;Liberation Sans&quot;,sans-serif;font-size:14.56px;white-space:pre;">U</text><text transform="translate(1034 560.93) scale(0.92 1)" text-anchor="start" fill="#111" stroke="#111" stroke-width="0.3" style="font-family:&quot;Liberation Sans&quot;,sans-serif;font-size:11.96px;white-space:pre;">вых.</text><text x="1057" y="559.32" text-anchor="start" fill="#111" stroke="#111" stroke-width="0.3" style="font-family:&quot;Liberation Sans&quot;,sans-serif;font-size:14.56px;white-space:pre;" textLength="68.2" lengthAdjust="spacingAndGlyphs">=+3±0,2B.</text><rect x="1175.6" y="352.3" width="75.8" height="63" fill="none" stroke="#666" stroke-width="1.2"/><text transform="translate(1215.5 364.96) scale(0.92 1)" text-anchor="middle" fill="#111" stroke="#111" stroke-width="0.3" style="font-family:&quot;Liberation Sans&quot;,sans-serif;font-size:13.52px;white-space:pre;">КД226Д</text><path d="M1181 380.9 L1198 380.9" stroke="#111" stroke-width="1.4" fill="none" stroke-linecap="butt" stroke-linejoin="miter"/><path d="M1231.3 380.9 L1247 380.9" stroke="#111" stroke-width="1.4" fill="none" stroke-linecap="butt" stroke-linejoin="miter"/><rect x="1198" y="374" width="33.3" height="13.6" fill="none" stroke="#111" stroke-width="1.5"/><rect x="1203.2" y="375" width="3" height="11.8" fill="#aaa"/><path d="M1185 373 L1194 373" stroke="#1f1f9e" stroke-width="2" fill="none" stroke-linecap="butt" stroke-linejoin="miter"/><text transform="translate(1240.3 378.38) scale(1 1)" text-anchor="middle" fill="#1f1f9e" stroke="#1f1f9e" stroke-width="0" style="font-family:&quot;Liberation Sans&quot;,sans-serif;font-size:15.6px;white-space:pre;font-weight:bold;">+</text><text x="1181.8" y="401.14" text-anchor="start" fill="#111" stroke="#111" stroke-width="0.3" style="font-family:&quot;Liberation Sans&quot;,sans-serif;font-size:14.04px;white-space:pre;" textLength="60.8" lengthAdjust="spacingAndGlyphs">(бел. пол.)</text><text x="1183.9" y="413.14" text-anchor="start" fill="#111" stroke="#111" stroke-width="0.3" style="font-family:&quot;Liberation Sans&quot;,sans-serif;font-size:14.04px;white-space:pre;" textLength="57.1" lengthAdjust="spacingAndGlyphs">800B 1,7A</text><rect x="1157.4" y="431.2" width="51" height="57.4" fill="none" stroke="#666" stroke-width="1.2"/><text transform="translate(1182.7 443.63) scale(0.92 1)" text-anchor="middle" fill="#111" stroke="#111" stroke-width="0.3" style="font-family:&quot;Liberation Sans&quot;,sans-serif;font-size:11.96px;white-space:pre;">КП501А</text><text transform="translate(1182.7 455.81) scale(1 1)" text-anchor="middle" fill="#111" stroke="#111" stroke-width="0" style="font-family:&quot;Liberation Sans&quot;,sans-serif;font-size:12.48px;white-space:pre;font-weight:bold;">ЭСИ</text><path d="M1172.2 461.5 A13 13 0 1 0 1193.2 461.5 Z" stroke="#111" stroke-width="1.6" fill="none"/><path d="M1162.7 468.8 L1203.7 468.8" stroke="#111" stroke-width="1.1" fill="none" stroke-linecap="butt" stroke-linejoin="miter"/><path d="M1182.7 456 L1182.7 486" stroke="#111" stroke-width="1.1" fill="none" stroke-linecap="butt" stroke-linejoin="miter"/><circle cx="1174.5" cy="468.8" r="2.4" fill="#111"/><circle cx="1182.7" cy="468.8" r="2.4" fill="#111"/><circle cx="1190.9" cy="468.8" r="2.4" fill="#111"/><rect x="1219.2" y="431.2" width="51" height="57.4" fill="none" stroke="#666" stroke-width="1.2"/><text transform="translate(1244.5 443.63) scale(0.92 1)" text-anchor="middle" fill="#111" stroke="#111" stroke-width="0.3" style="font-family:&quot;Liberation Sans&quot;,sans-serif;font-size:11.96px;white-space:pre;">КП505А</text><text transform="translate(1244.5 455.81) scale(1 1)" text-anchor="middle" fill="#111" stroke="#111" stroke-width="0" style="font-family:&quot;Liberation Sans&quot;,sans-serif;font-size:12.48px;white-space:pre;font-weight:bold;">И С З</text><path d="M1234 461.5 A13 13 0 1 0 1255 461.5 Z" stroke="#111" stroke-width="1.6" fill="none"/><path d="M1224.5 468.8 L1265.5 468.8" stroke="#111" stroke-width="1.1" fill="none" stroke-linecap="butt" stroke-linejoin="miter"/><path d="M1244.5 456 L1244.5 486" stroke="#111" stroke-width="1.1" fill="none" stroke-linecap="butt" stroke-linejoin="miter"/><circle cx="1236.3" cy="468.8" r="2.4" fill="#111"/><circle cx="1244.5" cy="468.8" r="2.4" fill="#111"/><circle cx="1252.7" cy="468.8" r="2.4" fill="#111"/><rect x="1042.2" y="571.7" width="73" height="86.3" fill="none" stroke="#666" stroke-width="1.2"/><text transform="translate(1077.8 584.54) scale(0.92 1)" text-anchor="middle" fill="#111" stroke="#111" stroke-width="0.3" style="font-family:&quot;Liberation Sans&quot;,sans-serif;font-size:14.04px;white-space:pre;">1N4007</text><path d="M1047 587.6 L1109.4 587.6" stroke="#111" stroke-width="1.5" fill="none" stroke-linecap="butt" stroke-linejoin="miter"/><path d="M1047 590.6 L1109.4 590.6" stroke="#111" stroke-width="1.5" fill="none" stroke-linecap="butt" stroke-linejoin="miter"/><path d="M1052.7 601.8 L1101.5 601.8" stroke="#111" stroke-width="1.3" fill="none" stroke-linecap="butt" stroke-linejoin="miter"/><rect x="1066" y="596" width="22.3" height="11.3" fill="#111"/><rect x="1066" y="596.8" width="3" height="9.7" fill="#999"/><path d="M1053 596.3 L1060.5 596.3" stroke="#111" stroke-width="1.6" fill="none" stroke-linecap="butt" stroke-linejoin="miter"/><text transform="translate(1096.2 600.46) scale(1 1)" text-anchor="middle" fill="#111" stroke="#111" stroke-width="0" style="font-family:&quot;Liberation Sans&quot;,sans-serif;font-size:13.52px;white-space:pre;font-weight:bold;">+</text><text transform="translate(1077.8 621.84) scale(0.92 1)" text-anchor="middle" fill="#111" stroke="#111" stroke-width="0.3" style="font-family:&quot;Liberation Sans&quot;,sans-serif;font-size:14.04px;white-space:pre;">1A,1000B</text><text transform="translate(1077.8 637.84) scale(0.92 1)" text-anchor="middle" fill="#111" stroke="#111" stroke-width="0.3" style="font-family:&quot;Liberation Sans&quot;,sans-serif;font-size:14.04px;white-space:pre;">"РМ" №12,</text><text transform="translate(1077.8 652.84) scale(0.92 1)" text-anchor="middle" fill="#111" stroke="#111" stroke-width="0.3" style="font-family:&quot;Liberation Sans&quot;,sans-serif;font-size:14.04px;white-space:pre;">2005, с.41.</text><rect x="1175.3" y="502.4" width="75.2" height="47.5" fill="none" stroke="#666" stroke-width="1.2"/><text x="1193" y="513.59" text-anchor="start" fill="#111" stroke="#111" stroke-width="0.3" style="font-family:&quot;Liberation Sans&quot;,sans-serif;font-size:13px;white-space:pre;" textLength="40.7" lengthAdjust="spacingAndGlyphs">КД522Б</text><text x="1180.7" y="525.99" text-anchor="start" fill="#111" stroke="#111" stroke-width="0" style="font-family:&quot;Liberation Sans&quot;,sans-serif;font-size:13px;white-space:pre;font-weight:bold;" textLength="64.1" lengthAdjust="spacingAndGlyphs">3 чёрн. пол.</text><path d="M1179 538.6 L1191 538.6" stroke="#111" stroke-width="2.2" fill="none" stroke-linecap="butt" stroke-linejoin="miter"/><path d="M1235.5 538.6 L1247.8 538.6" stroke="#111" stroke-width="2.2" fill="none" stroke-linecap="butt" stroke-linejoin="miter"/><rect x="1199" y="530" width="5.6" height="16.3" fill="#111"/><rect x="1208.9" y="530" width="5.1" height="16.3" fill="#111"/><rect x="1219.1" y="530" width="9.9" height="16.3" fill="#111"/><rect x="1191.5" y="530.6" width="43.7" height="15.1" rx="5.5" fill="none" stroke="#111" stroke-width="2.2"/><path d="M1179.8 531.8 L1185.4 531.8" stroke="#111" stroke-width="2.2" fill="none" stroke-linecap="butt" stroke-linejoin="miter"/><text transform="translate(1242.6 537.62) scale(1 1)" text-anchor="middle" fill="#111" stroke="#111" stroke-width="0" style="font-family:&quot;Liberation Sans&quot;,sans-serif;font-size:14.56px;white-space:pre;font-weight:bold;">+</text><text transform="translate(1209.6 572.02) scale(0.92 1)" text-anchor="middle" fill="#111" stroke="#111" stroke-width="0.3" style="font-family:&quot;Liberation Sans&quot;,sans-serif;font-size:14.56px;white-space:pre;">К561ТЛ1</text><rect x="1202.5" y="582.8" width="28.7" height="45.4" fill="none" stroke="#111" stroke-width="1.5"/><text transform="translate(1216.85 601.43) scale(1 1)" text-anchor="middle" fill="#111" stroke="#111" stroke-width="0.3" style="font-family:&quot;Liberation Sans&quot;,sans-serif;font-size:21.84px;white-space:pre;">&amp;</text><path d="M1210.55 623.1 L1218.35 623.1 L1218.35 611.1" stroke="#111" stroke-width="1.3" fill="none" stroke-linecap="butt" stroke-linejoin="miter"/><path d="M1213.65 623.1 L1213.65 611.1 L1221.55 611.1" stroke="#111" stroke-width="1.3" fill="none" stroke-linecap="butt" stroke-linejoin="miter"/><circle cx="1231.2" cy="605.8" r="5" fill="#fff" stroke="#111" stroke-width="1.4"/><path d="M1236 605.8 L1259.7 605.8" stroke="#111" stroke-width="1.5" fill="none" stroke-linecap="butt" stroke-linejoin="miter"/><text transform="translate(1243.9 600.22) scale(0.92 1)" text-anchor="middle" fill="#111" stroke="#111" stroke-width="0.3" style="font-family:&quot;Liberation Sans&quot;,sans-serif;font-size:14.56px;white-space:pre;">3</text><path d="M1178 595.2 L1202.5 595.2" stroke="#111" stroke-width="1.5" fill="none" stroke-linecap="butt" stroke-linejoin="miter"/><path d="M1178 615.8 L1202.5 615.8" stroke="#111" stroke-width="1.5" fill="none" stroke-linecap="butt" stroke-linejoin="miter"/><path d="M1178 595.2 L1178 649.5" stroke="#111" stroke-width="1.5" fill="none" stroke-linecap="butt" stroke-linejoin="miter"/><circle cx="1178" cy="615.8" r="2.1" fill="#111"/><path d="M1166.5 649.5 L1189.5 649.5" stroke="#111" stroke-width="3.2" fill="none" stroke-linecap="butt" stroke-linejoin="miter"/><text transform="translate(1189.8 591.82) scale(0.92 1)" text-anchor="middle" fill="#111" stroke="#111" stroke-width="0.3" style="font-family:&quot;Liberation Sans&quot;,sans-serif;font-size:14.56px;white-space:pre;">1</text><text transform="translate(1189.8 612.92) scale(0.92 1)" text-anchor="middle" fill="#111" stroke="#111" stroke-width="0.3" style="font-family:&quot;Liberation Sans&quot;,sans-serif;font-size:14.56px;white-space:pre;">2</text><text transform="translate(1220 648.52) scale(0.92 1)" text-anchor="middle" fill="#111" stroke="#111" stroke-width="0.3" style="font-family:&quot;Liberation Sans&quot;,sans-serif;font-size:14.56px;white-space:pre;">DD2.4</text><text x="348" y="687.26" text-anchor="start" fill="#111" stroke="#111" stroke-width="0.3" style="font-family:&quot;Liberation Sans&quot;,sans-serif;font-size:18.72px;white-space:pre;" textLength="505.7" lengthAdjust="spacingAndGlyphs">Рисунок 1Б. Устройство для полива цветов - 2 (УдПЦ - 2).</text></svg></body></html>
